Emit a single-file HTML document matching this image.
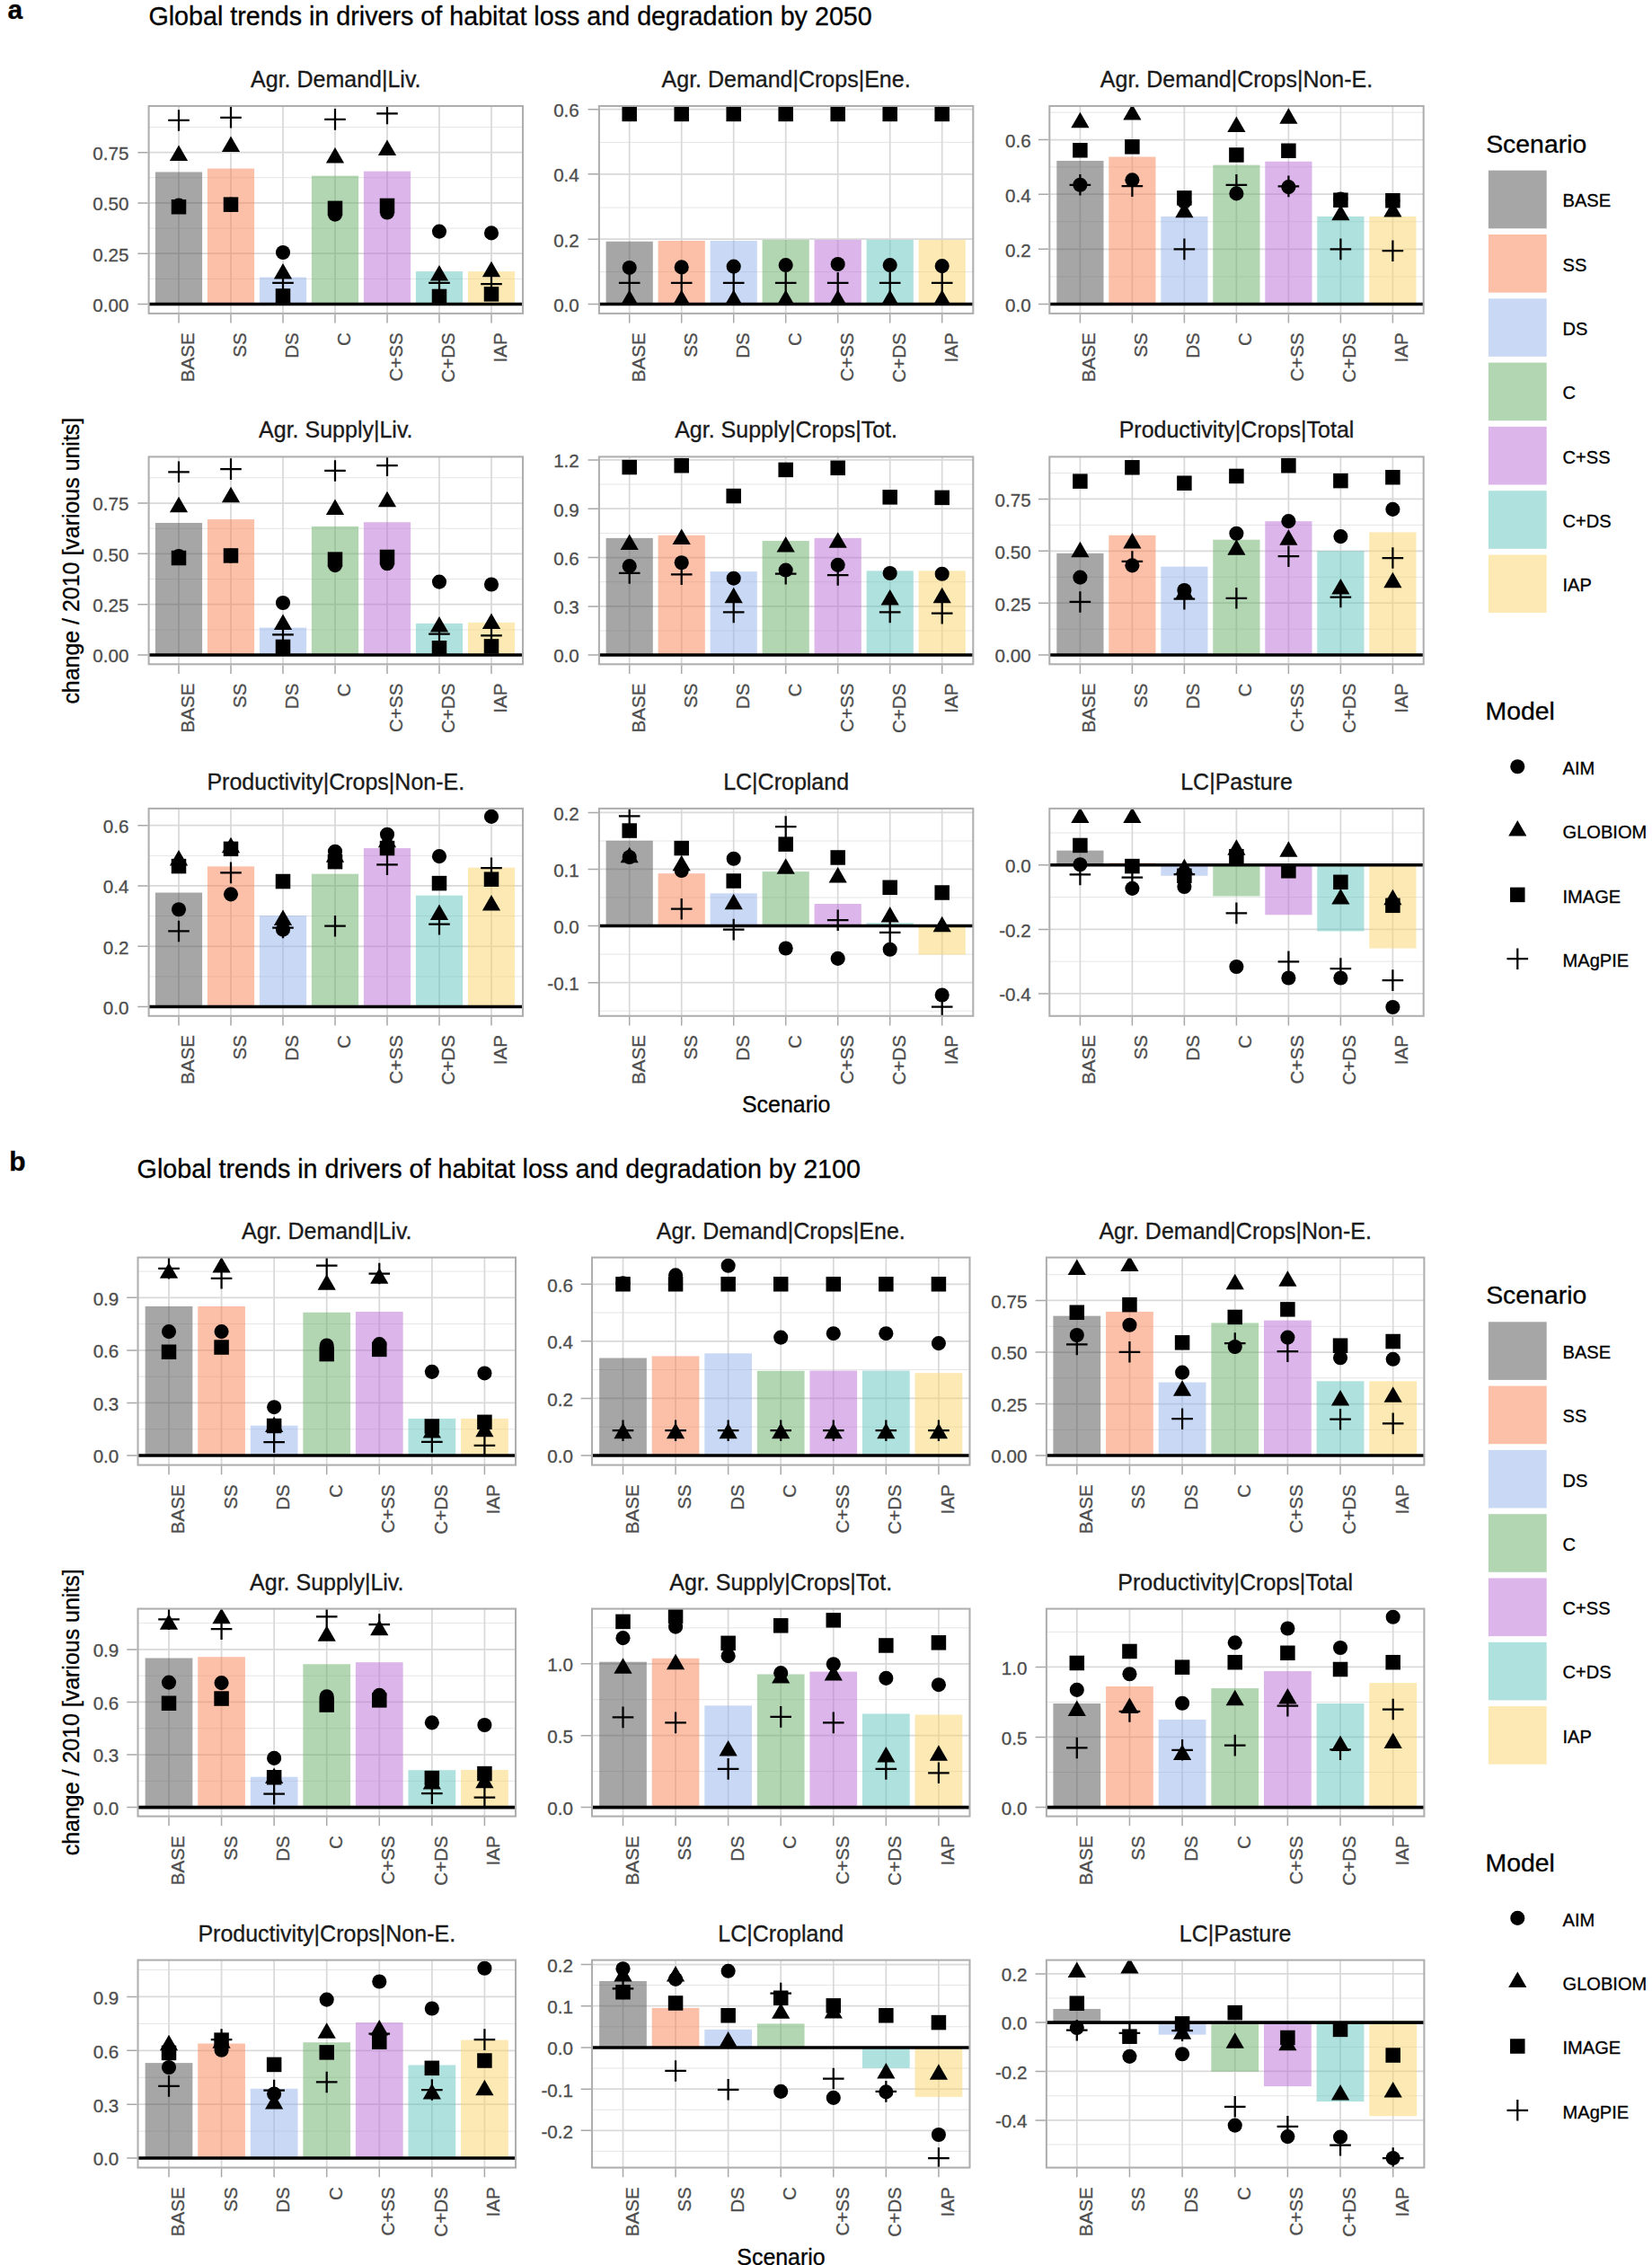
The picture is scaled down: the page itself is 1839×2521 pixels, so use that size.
<!DOCTYPE html>
<html lang="en"><head><meta charset="utf-8"><title>Global trends in drivers of habitat loss and degradation</title>
<style>html,body{margin:0;padding:0;background:#fff;color:#000}svg{display:block}text{fill:currentColor;stroke:currentColor;stroke-width:.3px}</style></head>
<body>
<svg width="1839" height="2521" viewBox="0 0 1839 2521" font-family='"Liberation Sans", sans-serif'>
<rect width="1839" height="2521" fill="#fff"/>
<text x="8.5" y="21.4" font-size="30" font-weight="bold" fill="#000">a</text>
<text x="10.3" y="1302.6" font-size="30" font-weight="bold" fill="#000">b</text>
<text x="165.4" y="27.8" font-size="28.7" fill="#000">Global trends in drivers of habitat loss and degradation by 2050</text>
<text x="152.6" y="1311" font-size="28.7" fill="#000">Global trends in drivers of habitat loss and degradation by 2100</text>
<text x="373.8" y="96.9" font-size="25.0" text-anchor="middle" color="#1a1a1a">Agr. Demand|Liv.</text>
<g>
<path d="M165.6 310.42H582M165.6 254.07H582M165.6 197.72H582M165.6 141.5H582" stroke="#e5e5e5" stroke-width="1" fill="none"/>
<path d="M165.6 338.54H582M165.6 282.23H582M165.6 225.93H582M165.6 169.63H582M199 118V348.9M257 118V348.9M315 118V348.9M373 118V348.9M431 118V348.9M489 118V348.9M547 118V348.9" stroke="#d9d9d9" stroke-width="1.75" fill="none"/>
<rect x="172.9" y="191.47" width="52.2" height="147.06" fill="#4d4d4d" fill-opacity="0.5"/>
<rect x="230.9" y="187.57" width="52.2" height="150.97" fill="#fa7f52" fill-opacity="0.5"/>
<rect x="288.9" y="308.6" width="52.2" height="29.93" fill="#93b4ec" fill-opacity="0.5"/>
<rect x="346.9" y="195.64" width="52.2" height="142.9" fill="#66ad66" fill-opacity="0.5"/>
<rect x="404.9" y="190.69" width="52.2" height="147.85" fill="#ba6bd6" fill-opacity="0.5"/>
<rect x="462.9" y="302.09" width="52.2" height="36.44" fill="#60c6be" fill-opacity="0.5"/>
<rect x="520.9" y="302.09" width="52.2" height="36.44" fill="#fcd468" fill-opacity="0.5"/>
<path d="M165.6 338.54H582" stroke="#000" stroke-width="3.6" fill="none"/>
<clipPath id="cp_a11"><rect x="165.6" y="118" width="416.4" height="230.9"/></clipPath>
<g fill="#000" clip-path="url(#cp_a11)">
<circle cx="199" cy="228.43" r="8.05"/>
<path d="M199 161.47L209.11 178.98L188.89 178.98Z"/>
<rect x="190.75" y="222" width="16.5" height="16.5"/>
<path d="M187.2 133.95H210.8M199 122.15V145.75" fill="none" stroke="#000" stroke-width="2.25"/>
<circle cx="257" cy="227.65" r="8.05"/>
<path d="M257 151.58L267.11 169.09L246.89 169.09Z"/>
<rect x="248.75" y="219.4" width="16.5" height="16.5"/>
<path d="M245.2 130.82H268.8M257 119.02V142.62" fill="none" stroke="#000" stroke-width="2.25"/>
<circle cx="315" cy="281.01" r="8.05"/>
<path d="M315 292.92L325.11 310.42L304.89 310.42Z"/>
<rect x="306.75" y="321.17" width="16.5" height="16.5"/>
<path d="M303.2 314.85H326.8M315 303.05V326.65" fill="none" stroke="#000" stroke-width="2.25"/>
<circle cx="373" cy="238.58" r="8.05"/>
<path d="M373 164.07L383.11 181.58L362.89 181.58Z"/>
<rect x="364.75" y="223.57" width="16.5" height="16.5"/>
<path d="M361.2 132.91H384.8M373 121.11V144.71" fill="none" stroke="#000" stroke-width="2.25"/>
<circle cx="431" cy="236.5" r="8.05"/>
<path d="M431 155.49L441.11 172.99L420.89 172.99Z"/>
<rect x="422.75" y="220.7" width="16.5" height="16.5"/>
<path d="M419.2 126.4H442.8M431 114.6V138.2" fill="none" stroke="#000" stroke-width="2.25"/>
<circle cx="489" cy="257.58" r="8.05"/>
<path d="M489 295L499.11 312.51L478.89 312.51Z"/>
<rect x="480.75" y="321.7" width="16.5" height="16.5"/>
<path d="M477.2 314.85H500.8M489 303.05V326.65" fill="none" stroke="#000" stroke-width="2.25"/>
<circle cx="547" cy="259.41" r="8.05"/>
<path d="M547 290.84L557.11 308.34L536.89 308.34Z"/>
<rect x="538.75" y="319.09" width="16.5" height="16.5"/>
<path d="M535.2 316.15H558.8M547 304.35V327.95" fill="none" stroke="#000" stroke-width="2.25"/>
</g>
<rect x="165.6" y="118" width="416.4" height="230.9" fill="none" stroke="#aeaeae" stroke-width="2.05"/>
<path d="M153.3 338.54H164.6M153.3 282.23H164.6M153.3 225.93H164.6M153.3 169.63H164.6M199 349.9V359.6M257 349.9V359.6M315 349.9V359.6M373 349.9V359.6M431 349.9V359.6M489 349.9V359.6M547 349.9V359.6" stroke="#a8a8a8" stroke-width="1.5" fill="none"/>
<g font-size="20.6" color="#4d4d4d" text-anchor="end">
<text x="143.4" y="346.94">0.00</text>
<text x="143.4" y="290.63">0.25</text>
<text x="143.4" y="234.33">0.50</text>
<text x="143.4" y="178.03">0.75</text>
</g>
<g font-size="20.6" color="#4d4d4d" text-anchor="end">
<text transform="translate(216 370.2) rotate(-90)">BASE</text>
<text transform="translate(274 370.2) rotate(-90)">SS</text>
<text transform="translate(332 370.2) rotate(-90)">DS</text>
<text transform="translate(390 370.2) rotate(-90)">C</text>
<text transform="translate(448 370.2) rotate(-90)">C+SS</text>
<text transform="translate(506 370.2) rotate(-90)">C+DS</text>
<text transform="translate(564 370.2) rotate(-90)">IAP</text>
</g>
</g>
<text x="875.1" y="96.9" font-size="25.0" text-anchor="middle" color="#1a1a1a">Agr. Demand|Crops|Ene.</text>
<g>
<path d="M666.9 302.62H1083.3M666.9 231.04H1083.3M666.9 158.41H1083.3" stroke="#e5e5e5" stroke-width="1" fill="none"/>
<path d="M666.9 338.54H1083.3M666.9 266.17H1083.3M666.9 193.81H1083.3M666.9 121.71H1083.3M700.7 118V348.9M758.7 118V348.9M816.7 118V348.9M874.7 118V348.9M932.7 118V348.9M990.7 118V348.9M1048.7 118V348.9" stroke="#d9d9d9" stroke-width="1.75" fill="none"/>
<rect x="674.6" y="268.78" width="52.2" height="69.76" fill="#4d4d4d" fill-opacity="0.5"/>
<rect x="732.6" y="268" width="52.2" height="70.54" fill="#fa7f52" fill-opacity="0.5"/>
<rect x="790.6" y="268" width="52.2" height="70.54" fill="#93b4ec" fill-opacity="0.5"/>
<rect x="848.6" y="266.96" width="52.2" height="71.58" fill="#66ad66" fill-opacity="0.5"/>
<rect x="906.6" y="266.96" width="52.2" height="71.58" fill="#ba6bd6" fill-opacity="0.5"/>
<rect x="964.6" y="266.96" width="52.2" height="71.58" fill="#60c6be" fill-opacity="0.5"/>
<rect x="1022.6" y="266.96" width="52.2" height="71.58" fill="#fcd468" fill-opacity="0.5"/>
<path d="M666.9 338.54H1083.3" stroke="#000" stroke-width="3.6" fill="none"/>
<clipPath id="cp_a12"><rect x="666.9" y="118" width="416.4" height="230.9"/></clipPath>
<g fill="#000" clip-path="url(#cp_a12)">
<circle cx="700.7" cy="297.93" r="8.05"/>
<path d="M700.7 322.59L710.81 340.1L690.59 340.1Z"/>
<rect x="692.45" y="118.67" width="16.5" height="16.5"/>
<path d="M688.9 314.85H712.5M700.7 303.05V326.65" fill="none" stroke="#000" stroke-width="2.25"/>
<circle cx="758.7" cy="297.41" r="8.05"/>
<path d="M758.7 322.59L768.81 340.1L748.59 340.1Z"/>
<rect x="750.45" y="118.67" width="16.5" height="16.5"/>
<path d="M746.9 314.85H770.5M758.7 303.05V326.65" fill="none" stroke="#000" stroke-width="2.25"/>
<circle cx="816.7" cy="296.63" r="8.05"/>
<path d="M816.7 322.59L826.81 340.1L806.59 340.1Z"/>
<rect x="808.45" y="118.67" width="16.5" height="16.5"/>
<path d="M804.9 314.85H828.5M816.7 303.05V326.65" fill="none" stroke="#000" stroke-width="2.25"/>
<circle cx="874.7" cy="295.07" r="8.05"/>
<path d="M874.7 322.59L884.81 340.1L864.59 340.1Z"/>
<rect x="866.45" y="118.67" width="16.5" height="16.5"/>
<path d="M862.9 314.85H886.5M874.7 303.05V326.65" fill="none" stroke="#000" stroke-width="2.25"/>
<circle cx="932.7" cy="294.03" r="8.05"/>
<path d="M932.7 322.59L942.81 340.1L922.59 340.1Z"/>
<rect x="924.45" y="118.67" width="16.5" height="16.5"/>
<path d="M920.9 314.85H944.5M932.7 303.05V326.65" fill="none" stroke="#000" stroke-width="2.25"/>
<circle cx="990.7" cy="295.07" r="8.05"/>
<path d="M990.7 322.59L1000.81 340.1L980.59 340.1Z"/>
<rect x="982.45" y="118.67" width="16.5" height="16.5"/>
<path d="M978.9 314.85H1002.5M990.7 303.05V326.65" fill="none" stroke="#000" stroke-width="2.25"/>
<circle cx="1048.7" cy="296.11" r="8.05"/>
<path d="M1048.7 322.59L1058.81 340.1L1038.59 340.1Z"/>
<rect x="1040.45" y="118.67" width="16.5" height="16.5"/>
<path d="M1036.9 314.85H1060.5M1048.7 303.05V326.65" fill="none" stroke="#000" stroke-width="2.25"/>
</g>
<rect x="666.9" y="118" width="416.4" height="230.9" fill="none" stroke="#aeaeae" stroke-width="2.05"/>
<path d="M654.6 338.54H665.9M654.6 266.17H665.9M654.6 193.81H665.9M654.6 121.71H665.9M700.7 349.9V359.6M758.7 349.9V359.6M816.7 349.9V359.6M874.7 349.9V359.6M932.7 349.9V359.6M990.7 349.9V359.6M1048.7 349.9V359.6" stroke="#a8a8a8" stroke-width="1.5" fill="none"/>
<g font-size="20.6" color="#4d4d4d" text-anchor="end">
<text x="644.8" y="346.94">0.0</text>
<text x="644.8" y="274.57">0.2</text>
<text x="644.8" y="202.21">0.4</text>
<text x="644.8" y="130.11">0.6</text>
</g>
<g font-size="20.6" color="#4d4d4d" text-anchor="end">
<text transform="translate(717.7 370.2) rotate(-90)">BASE</text>
<text transform="translate(775.7 370.2) rotate(-90)">SS</text>
<text transform="translate(833.7 370.2) rotate(-90)">DS</text>
<text transform="translate(891.7 370.2) rotate(-90)">C</text>
<text transform="translate(949.7 370.2) rotate(-90)">C+SS</text>
<text transform="translate(1007.7 370.2) rotate(-90)">C+DS</text>
<text transform="translate(1065.7 370.2) rotate(-90)">IAP</text>
</g>
</g>
<text x="1376.5" y="96.9" font-size="25.0" text-anchor="middle" color="#1a1a1a">Agr. Demand|Crops|Non-E.</text>
<g>
<path d="M1168.3 307.95H1584.7M1168.3 246.78H1584.7M1168.3 185.87H1584.7M1168.3 125.1H1584.7" stroke="#e5e5e5" stroke-width="1" fill="none"/>
<path d="M1168.3 338.54H1584.7M1168.3 277.37H1584.7M1168.3 216.2H1584.7M1168.3 155.55H1584.7M1202.4 118V348.9M1260.4 118V348.9M1318.4 118V348.9M1376.4 118V348.9M1434.4 118V348.9M1492.4 118V348.9M1550.4 118V348.9" stroke="#d9d9d9" stroke-width="1.75" fill="none"/>
<rect x="1176.3" y="178.98" width="52.2" height="159.56" fill="#4d4d4d" fill-opacity="0.5"/>
<rect x="1234.3" y="174.55" width="52.2" height="163.98" fill="#fa7f52" fill-opacity="0.5"/>
<rect x="1292.3" y="240.93" width="52.2" height="97.61" fill="#93b4ec" fill-opacity="0.5"/>
<rect x="1350.3" y="183.66" width="52.2" height="154.87" fill="#66ad66" fill-opacity="0.5"/>
<rect x="1408.3" y="179.76" width="52.2" height="158.78" fill="#ba6bd6" fill-opacity="0.5"/>
<rect x="1466.3" y="240.93" width="52.2" height="97.61" fill="#60c6be" fill-opacity="0.5"/>
<rect x="1524.3" y="240.93" width="52.2" height="97.61" fill="#fcd468" fill-opacity="0.5"/>
<path d="M1168.3 338.54H1584.7" stroke="#000" stroke-width="3.6" fill="none"/>
<clipPath id="cp_a13"><rect x="1168.3" y="118" width="416.4" height="230.9"/></clipPath>
<g fill="#000" clip-path="url(#cp_a13)">
<circle cx="1202.4" cy="205.79" r="8.05"/>
<path d="M1202.4 124.77L1212.51 142.28L1192.29 142.28Z"/>
<rect x="1194.15" y="159.01" width="16.5" height="16.5"/>
<path d="M1190.6 205.79H1214.2M1202.4 193.99V217.59" fill="none" stroke="#000" stroke-width="2.25"/>
<circle cx="1260.4" cy="200.32" r="8.05"/>
<path d="M1260.4 115.92L1270.51 133.43L1250.29 133.43Z"/>
<rect x="1252.15" y="155.11" width="16.5" height="16.5"/>
<path d="M1248.6 207.09H1272.2M1260.4 195.29V218.89" fill="none" stroke="#000" stroke-width="2.25"/>
<circle cx="1318.4" cy="224.53" r="8.05"/>
<path d="M1318.4 224.72L1328.51 242.23L1308.29 242.23Z"/>
<rect x="1310.15" y="212.11" width="16.5" height="16.5"/>
<path d="M1306.6 277.37H1330.2M1318.4 265.57V289.17" fill="none" stroke="#000" stroke-width="2.25"/>
<circle cx="1376.4" cy="215.42" r="8.05"/>
<path d="M1376.4 129.46L1386.51 146.96L1366.29 146.96Z"/>
<rect x="1368.15" y="164.22" width="16.5" height="16.5"/>
<path d="M1364.6 205.79H1388.2M1376.4 193.99V217.59" fill="none" stroke="#000" stroke-width="2.25"/>
<circle cx="1434.4" cy="208.13" r="8.05"/>
<path d="M1434.4 120.35L1444.51 137.85L1424.29 137.85Z"/>
<rect x="1426.15" y="159.53" width="16.5" height="16.5"/>
<path d="M1422.6 207.35H1446.2M1434.4 195.55V219.15" fill="none" stroke="#000" stroke-width="2.25"/>
<circle cx="1492.4" cy="221.66" r="8.05"/>
<path d="M1492.4 227.85L1502.51 245.35L1482.29 245.35Z"/>
<rect x="1484.15" y="214.46" width="16.5" height="16.5"/>
<path d="M1480.6 277.37H1504.2M1492.4 265.57V289.17" fill="none" stroke="#000" stroke-width="2.25"/>
<circle cx="1550.4" cy="223.23" r="8.05"/>
<path d="M1550.4 223.94L1560.51 241.45L1540.29 241.45Z"/>
<rect x="1542.15" y="214.98" width="16.5" height="16.5"/>
<path d="M1538.6 279.19H1562.2M1550.4 267.39V290.99" fill="none" stroke="#000" stroke-width="2.25"/>
</g>
<rect x="1168.3" y="118" width="416.4" height="230.9" fill="none" stroke="#aeaeae" stroke-width="2.05"/>
<path d="M1156 338.54H1167.3M1156 277.37H1167.3M1156 216.2H1167.3M1156 155.55H1167.3M1202.4 349.9V359.6M1260.4 349.9V359.6M1318.4 349.9V359.6M1376.4 349.9V359.6M1434.4 349.9V359.6M1492.4 349.9V359.6M1550.4 349.9V359.6" stroke="#a8a8a8" stroke-width="1.5" fill="none"/>
<g font-size="20.6" color="#4d4d4d" text-anchor="end">
<text x="1147.7" y="346.94">0.0</text>
<text x="1147.7" y="285.77">0.2</text>
<text x="1147.7" y="224.6">0.4</text>
<text x="1147.7" y="163.95">0.6</text>
</g>
<g font-size="20.6" color="#4d4d4d" text-anchor="end">
<text transform="translate(1219.4 370.2) rotate(-90)">BASE</text>
<text transform="translate(1277.4 370.2) rotate(-90)">SS</text>
<text transform="translate(1335.4 370.2) rotate(-90)">DS</text>
<text transform="translate(1393.4 370.2) rotate(-90)">C</text>
<text transform="translate(1451.4 370.2) rotate(-90)">C+SS</text>
<text transform="translate(1509.4 370.2) rotate(-90)">C+DS</text>
<text transform="translate(1567.4 370.2) rotate(-90)">IAP</text>
</g>
</g>
<text x="373.8" y="487.3" font-size="25.0" text-anchor="middle" color="#1a1a1a">Agr. Supply|Liv.</text>
<g>
<path d="M165.6 700.94H582M165.6 644.46H582M165.6 588.24H582M165.6 531.76H582" stroke="#e5e5e5" stroke-width="1" fill="none"/>
<path d="M165.6 729.06H582M165.6 672.7H582M165.6 616.35H582M165.6 560H582M199 508.4V739.3M257 508.4V739.3M315 508.4V739.3M373 508.4V739.3M431 508.4V739.3M489 508.4V739.3M547 508.4V739.3" stroke="#d9d9d9" stroke-width="1.75" fill="none"/>
<rect x="172.9" y="581.99" width="52.2" height="147.06" fill="#4d4d4d" fill-opacity="0.5"/>
<rect x="230.9" y="578.09" width="52.2" height="150.97" fill="#fa7f52" fill-opacity="0.5"/>
<rect x="288.9" y="698.6" width="52.2" height="30.45" fill="#93b4ec" fill-opacity="0.5"/>
<rect x="346.9" y="585.9" width="52.2" height="143.16" fill="#66ad66" fill-opacity="0.5"/>
<rect x="404.9" y="581.21" width="52.2" height="147.85" fill="#ba6bd6" fill-opacity="0.5"/>
<rect x="462.9" y="693.92" width="52.2" height="35.14" fill="#60c6be" fill-opacity="0.5"/>
<rect x="520.9" y="692.88" width="52.2" height="36.18" fill="#fcd468" fill-opacity="0.5"/>
<path d="M165.6 729.06H582" stroke="#000" stroke-width="3.6" fill="none"/>
<clipPath id="cp_a21"><rect x="165.6" y="508.4" width="416.4" height="230.9"/></clipPath>
<g fill="#000" clip-path="url(#cp_a21)">
<circle cx="199" cy="618.95" r="8.05"/>
<path d="M199 552.77L209.11 570.28L188.89 570.28Z"/>
<rect x="190.75" y="612.79" width="16.5" height="16.5"/>
<path d="M187.2 525.25H210.8M199 513.45V537.05" fill="none" stroke="#000" stroke-width="2.25"/>
<circle cx="257" cy="618.43" r="8.05"/>
<path d="M257 541.84L267.11 559.35L246.89 559.35Z"/>
<rect x="248.75" y="610.18" width="16.5" height="16.5"/>
<path d="M245.2 522.12H268.8M257 510.32V533.92" fill="none" stroke="#000" stroke-width="2.25"/>
<circle cx="315" cy="671.01" r="8.05"/>
<path d="M315 683.44L325.11 700.94L304.89 700.94Z"/>
<rect x="306.75" y="711.7" width="16.5" height="16.5"/>
<path d="M303.2 706.41H326.8M315 694.61V718.21" fill="none" stroke="#000" stroke-width="2.25"/>
<circle cx="373" cy="629.1" r="8.05"/>
<path d="M373 555.38L383.11 572.88L362.89 572.88Z"/>
<rect x="364.75" y="614.35" width="16.5" height="16.5"/>
<path d="M361.2 523.95H384.8M373 512.15V535.75" fill="none" stroke="#000" stroke-width="2.25"/>
<circle cx="431" cy="627.28" r="8.05"/>
<path d="M431 546.79L441.11 564.29L420.89 564.29Z"/>
<rect x="422.75" y="611.74" width="16.5" height="16.5"/>
<path d="M419.2 518.22H442.8M431 506.42V530.02" fill="none" stroke="#000" stroke-width="2.25"/>
<circle cx="489" cy="647.58" r="8.05"/>
<path d="M489 686.04L499.11 703.55L478.89 703.55Z"/>
<rect x="480.75" y="713" width="16.5" height="16.5"/>
<path d="M477.2 705.63H500.8M489 693.83V717.43" fill="none" stroke="#000" stroke-width="2.25"/>
<circle cx="547" cy="650.45" r="8.05"/>
<path d="M547 682.4L557.11 699.9L536.89 699.9Z"/>
<rect x="538.75" y="711.17" width="16.5" height="16.5"/>
<path d="M535.2 707.45H558.8M547 695.65V719.25" fill="none" stroke="#000" stroke-width="2.25"/>
</g>
<rect x="165.6" y="508.4" width="416.4" height="230.9" fill="none" stroke="#aeaeae" stroke-width="2.05"/>
<path d="M153.3 729.06H164.6M153.3 672.7H164.6M153.3 616.35H164.6M153.3 560H164.6M199 740.3V750M257 740.3V750M315 740.3V750M373 740.3V750M431 740.3V750M489 740.3V750M547 740.3V750" stroke="#a8a8a8" stroke-width="1.5" fill="none"/>
<g font-size="20.6" color="#4d4d4d" text-anchor="end">
<text x="143.4" y="737.46">0.00</text>
<text x="143.4" y="681.1">0.25</text>
<text x="143.4" y="624.75">0.50</text>
<text x="143.4" y="568.4">0.75</text>
</g>
<g font-size="20.6" color="#4d4d4d" text-anchor="end">
<text transform="translate(216 760.6) rotate(-90)">BASE</text>
<text transform="translate(274 760.6) rotate(-90)">SS</text>
<text transform="translate(332 760.6) rotate(-90)">DS</text>
<text transform="translate(390 760.6) rotate(-90)">C</text>
<text transform="translate(448 760.6) rotate(-90)">C+SS</text>
<text transform="translate(506 760.6) rotate(-90)">C+DS</text>
<text transform="translate(564 760.6) rotate(-90)">IAP</text>
</g>
</g>
<text x="875.1" y="487.3" font-size="25.0" text-anchor="middle" color="#1a1a1a">Agr. Supply|Crops|Tot.</text>
<g>
<path d="M666.9 701.99H1083.3M666.9 647.71H1083.3M666.9 593.44H1083.3M666.9 539.04H1083.3" stroke="#e5e5e5" stroke-width="1" fill="none"/>
<path d="M666.9 729.06H1083.3M666.9 674.92H1083.3M666.9 620.51H1083.3M666.9 566.24H1083.3M666.9 511.97H1083.3M700.7 508.4V739.3M758.7 508.4V739.3M816.7 508.4V739.3M874.7 508.4V739.3M932.7 508.4V739.3M990.7 508.4V739.3M1048.7 508.4V739.3" stroke="#d9d9d9" stroke-width="1.75" fill="none"/>
<rect x="674.6" y="598.91" width="52.2" height="130.15" fill="#4d4d4d" fill-opacity="0.5"/>
<rect x="732.6" y="595.79" width="52.2" height="133.27" fill="#fa7f52" fill-opacity="0.5"/>
<rect x="790.6" y="636.13" width="52.2" height="92.92" fill="#93b4ec" fill-opacity="0.5"/>
<rect x="848.6" y="602.03" width="52.2" height="127.02" fill="#66ad66" fill-opacity="0.5"/>
<rect x="906.6" y="598.91" width="52.2" height="130.15" fill="#ba6bd6" fill-opacity="0.5"/>
<rect x="964.6" y="635.35" width="52.2" height="93.7" fill="#60c6be" fill-opacity="0.5"/>
<rect x="1022.6" y="635.35" width="52.2" height="93.7" fill="#fcd468" fill-opacity="0.5"/>
<path d="M666.9 729.06H1083.3" stroke="#000" stroke-width="3.6" fill="none"/>
<clipPath id="cp_a22"><rect x="666.9" y="508.4" width="416.4" height="230.9"/></clipPath>
<g fill="#000" clip-path="url(#cp_a22)">
<circle cx="700.7" cy="630.15" r="8.05"/>
<path d="M700.7 594.42L710.81 611.92L690.59 611.92Z"/>
<rect x="692.45" y="511.79" width="16.5" height="16.5"/>
<path d="M688.9 637.95H712.5M700.7 626.15V649.75" fill="none" stroke="#000" stroke-width="2.25"/>
<circle cx="758.7" cy="626.24" r="8.05"/>
<path d="M758.7 588.43L768.81 605.94L748.59 605.94Z"/>
<rect x="750.45" y="509.97" width="16.5" height="16.5"/>
<path d="M746.9 639.26H770.5M758.7 627.46V651.06" fill="none" stroke="#000" stroke-width="2.25"/>
<circle cx="816.7" cy="643.68" r="8.05"/>
<path d="M816.7 653.77L826.81 671.27L806.59 671.27Z"/>
<rect x="808.45" y="543.81" width="16.5" height="16.5"/>
<path d="M804.9 681.42H828.5M816.7 669.62V693.22" fill="none" stroke="#000" stroke-width="2.25"/>
<circle cx="874.7" cy="634.57" r="8.05"/>
<path d="M874.7 597.02L884.81 614.53L864.59 614.53Z"/>
<rect x="866.45" y="514.66" width="16.5" height="16.5"/>
<path d="M862.9 638.73H886.5M874.7 626.93V650.53" fill="none" stroke="#000" stroke-width="2.25"/>
<circle cx="932.7" cy="628.84" r="8.05"/>
<path d="M932.7 592.34L942.81 609.84L922.59 609.84Z"/>
<rect x="924.45" y="512.57" width="16.5" height="16.5"/>
<path d="M920.9 640.04H944.5M932.7 628.24V651.84" fill="none" stroke="#000" stroke-width="2.25"/>
<circle cx="990.7" cy="637.95" r="8.05"/>
<path d="M990.7 656.11L1000.81 673.61L980.59 673.61Z"/>
<rect x="982.45" y="545.11" width="16.5" height="16.5"/>
<path d="M978.9 681.42H1002.5M990.7 669.62V693.22" fill="none" stroke="#000" stroke-width="2.25"/>
<circle cx="1048.7" cy="638.73" r="8.05"/>
<path d="M1048.7 653.77L1058.81 671.27L1038.59 671.27Z"/>
<rect x="1040.45" y="545.63" width="16.5" height="16.5"/>
<path d="M1036.9 682.72H1060.5M1048.7 670.92V694.52" fill="none" stroke="#000" stroke-width="2.25"/>
</g>
<rect x="666.9" y="508.4" width="416.4" height="230.9" fill="none" stroke="#aeaeae" stroke-width="2.05"/>
<path d="M654.6 729.06H665.9M654.6 674.92H665.9M654.6 620.51H665.9M654.6 566.24H665.9M654.6 511.97H665.9M700.7 740.3V750M758.7 740.3V750M816.7 740.3V750M874.7 740.3V750M932.7 740.3V750M990.7 740.3V750M1048.7 740.3V750" stroke="#a8a8a8" stroke-width="1.5" fill="none"/>
<g font-size="20.6" color="#4d4d4d" text-anchor="end">
<text x="644.8" y="737.46">0.0</text>
<text x="644.8" y="683.32">0.3</text>
<text x="644.8" y="628.91">0.6</text>
<text x="644.8" y="574.64">0.9</text>
<text x="644.8" y="520.37">1.2</text>
</g>
<g font-size="20.6" color="#4d4d4d" text-anchor="end">
<text transform="translate(717.7 760.6) rotate(-90)">BASE</text>
<text transform="translate(775.7 760.6) rotate(-90)">SS</text>
<text transform="translate(833.7 760.6) rotate(-90)">DS</text>
<text transform="translate(891.7 760.6) rotate(-90)">C</text>
<text transform="translate(949.7 760.6) rotate(-90)">C+SS</text>
<text transform="translate(1007.7 760.6) rotate(-90)">C+DS</text>
<text transform="translate(1065.7 760.6) rotate(-90)">IAP</text>
</g>
</g>
<text x="1376.5" y="487.3" font-size="25.0" text-anchor="middle" color="#1a1a1a">Productivity|Crops|Total</text>
<g>
<path d="M1168.3 700.16H1584.7M1168.3 642.25H1584.7M1168.3 584.33H1584.7M1168.3 526.55H1584.7" stroke="#e5e5e5" stroke-width="1" fill="none"/>
<path d="M1168.3 729.06H1584.7M1168.3 671.19H1584.7M1168.3 613.3H1584.7M1168.3 555.44H1584.7M1202.4 508.4V739.3M1260.4 508.4V739.3M1318.4 508.4V739.3M1376.4 508.4V739.3M1434.4 508.4V739.3M1492.4 508.4V739.3M1550.4 508.4V739.3" stroke="#d9d9d9" stroke-width="1.75" fill="none"/>
<rect x="1176.3" y="615.83" width="52.2" height="113.23" fill="#4d4d4d" fill-opacity="0.5"/>
<rect x="1234.3" y="595.79" width="52.2" height="133.27" fill="#fa7f52" fill-opacity="0.5"/>
<rect x="1292.3" y="630.67" width="52.2" height="98.39" fill="#93b4ec" fill-opacity="0.5"/>
<rect x="1350.3" y="600.73" width="52.2" height="128.32" fill="#66ad66" fill-opacity="0.5"/>
<rect x="1408.3" y="580.17" width="52.2" height="148.89" fill="#ba6bd6" fill-opacity="0.5"/>
<rect x="1466.3" y="613.23" width="52.2" height="115.83" fill="#60c6be" fill-opacity="0.5"/>
<rect x="1524.3" y="592.4" width="52.2" height="136.65" fill="#fcd468" fill-opacity="0.5"/>
<path d="M1168.3 729.06H1584.7" stroke="#000" stroke-width="3.6" fill="none"/>
<clipPath id="cp_a23"><rect x="1168.3" y="508.4" width="416.4" height="230.9"/></clipPath>
<g fill="#000" clip-path="url(#cp_a23)">
<circle cx="1202.4" cy="642.64" r="8.05"/>
<path d="M1202.4 602.75L1212.51 620.25L1192.29 620.25Z"/>
<rect x="1194.15" y="527.41" width="16.5" height="16.5"/>
<path d="M1190.6 669.97H1214.2M1202.4 658.17V681.77" fill="none" stroke="#000" stroke-width="2.25"/>
<circle cx="1260.4" cy="629.36" r="8.05"/>
<path d="M1260.4 593.12L1270.51 610.62L1250.29 610.62Z"/>
<rect x="1252.15" y="512.05" width="16.5" height="16.5"/>
<path d="M1248.6 624.94H1272.2M1260.4 613.14V636.74" fill="none" stroke="#000" stroke-width="2.25"/>
<circle cx="1318.4" cy="656.96" r="8.05"/>
<path d="M1318.4 649.08L1328.51 666.59L1308.29 666.59Z"/>
<rect x="1310.15" y="529.49" width="16.5" height="16.5"/>
<path d="M1306.6 666.59H1330.2M1318.4 654.79V678.39" fill="none" stroke="#000" stroke-width="2.25"/>
<circle cx="1376.4" cy="593.7" r="8.05"/>
<path d="M1376.4 600.15L1386.51 617.65L1366.29 617.65Z"/>
<rect x="1368.15" y="521.68" width="16.5" height="16.5"/>
<path d="M1364.6 665.81H1388.2M1376.4 654.01V677.61" fill="none" stroke="#000" stroke-width="2.25"/>
<circle cx="1434.4" cy="580.17" r="8.05"/>
<path d="M1434.4 589.21L1444.51 606.72L1424.29 606.72Z"/>
<rect x="1426.15" y="509.97" width="16.5" height="16.5"/>
<path d="M1422.6 619.21H1446.2M1434.4 607.41V631.01" fill="none" stroke="#000" stroke-width="2.25"/>
<circle cx="1492.4" cy="597.09" r="8.05"/>
<path d="M1492.4 643.88L1502.51 661.38L1482.29 661.38Z"/>
<rect x="1484.15" y="526.89" width="16.5" height="16.5"/>
<path d="M1480.6 664.5H1504.2M1492.4 652.7V676.3" fill="none" stroke="#000" stroke-width="2.25"/>
<circle cx="1550.4" cy="566.89" r="8.05"/>
<path d="M1550.4 636.85L1560.51 654.35L1540.29 654.35Z"/>
<rect x="1542.15" y="522.98" width="16.5" height="16.5"/>
<path d="M1538.6 621.04H1562.2M1550.4 609.24V632.84" fill="none" stroke="#000" stroke-width="2.25"/>
</g>
<rect x="1168.3" y="508.4" width="416.4" height="230.9" fill="none" stroke="#aeaeae" stroke-width="2.05"/>
<path d="M1156 729.06H1167.3M1156 671.19H1167.3M1156 613.3H1167.3M1156 555.44H1167.3M1202.4 740.3V750M1260.4 740.3V750M1318.4 740.3V750M1376.4 740.3V750M1434.4 740.3V750M1492.4 740.3V750M1550.4 740.3V750" stroke="#a8a8a8" stroke-width="1.5" fill="none"/>
<g font-size="20.6" color="#4d4d4d" text-anchor="end">
<text x="1147.7" y="737.46">0.00</text>
<text x="1147.7" y="679.59">0.25</text>
<text x="1147.7" y="621.7">0.50</text>
<text x="1147.7" y="563.84">0.75</text>
</g>
<g font-size="20.6" color="#4d4d4d" text-anchor="end">
<text transform="translate(1219.4 760.6) rotate(-90)">BASE</text>
<text transform="translate(1277.4 760.6) rotate(-90)">SS</text>
<text transform="translate(1335.4 760.6) rotate(-90)">DS</text>
<text transform="translate(1393.4 760.6) rotate(-90)">C</text>
<text transform="translate(1451.4 760.6) rotate(-90)">C+SS</text>
<text transform="translate(1509.4 760.6) rotate(-90)">C+DS</text>
<text transform="translate(1567.4 760.6) rotate(-90)">IAP</text>
</g>
</g>
<text x="373.8" y="878.8" font-size="25.0" text-anchor="middle" color="#1a1a1a">Productivity|Crops|Non-E.</text>
<g>
<path d="M165.6 1086.96H582M165.6 1019.54H582M165.6 952.39H582" stroke="#e5e5e5" stroke-width="1" fill="none"/>
<path d="M165.6 1120.54H582M165.6 1053.25H582M165.6 985.96H582M165.6 918.68H582M199 899.9V1130.8M257 899.9V1130.8M315 899.9V1130.8M373 899.9V1130.8M431 899.9V1130.8M489 899.9V1130.8M547 899.9V1130.8" stroke="#d9d9d9" stroke-width="1.75" fill="none"/>
<rect x="172.9" y="993.51" width="52.2" height="127.02" fill="#4d4d4d" fill-opacity="0.5"/>
<rect x="230.9" y="964.36" width="52.2" height="156.17" fill="#fa7f52" fill-opacity="0.5"/>
<rect x="288.9" y="1019.02" width="52.2" height="101.51" fill="#93b4ec" fill-opacity="0.5"/>
<rect x="346.9" y="972.69" width="52.2" height="147.85" fill="#66ad66" fill-opacity="0.5"/>
<rect x="404.9" y="944.06" width="52.2" height="176.48" fill="#ba6bd6" fill-opacity="0.5"/>
<rect x="462.9" y="996.64" width="52.2" height="123.9" fill="#60c6be" fill-opacity="0.5"/>
<rect x="520.9" y="965.66" width="52.2" height="154.87" fill="#fcd468" fill-opacity="0.5"/>
<path d="M165.6 1120.54H582" stroke="#000" stroke-width="3.6" fill="none"/>
<clipPath id="cp_a31"><rect x="165.6" y="899.9" width="416.4" height="230.9"/></clipPath>
<g fill="#000" clip-path="url(#cp_a31)">
<circle cx="199" cy="1012.25" r="8.05"/>
<path d="M199 946.07L209.11 963.58L188.89 963.58Z"/>
<rect x="190.75" y="955.85" width="16.5" height="16.5"/>
<path d="M187.2 1036.46H210.8M199 1024.66V1048.26" fill="none" stroke="#000" stroke-width="2.25"/>
<circle cx="257" cy="995.34" r="8.05"/>
<path d="M257 931.76L267.11 949.26L246.89 949.26Z"/>
<rect x="248.75" y="936.59" width="16.5" height="16.5"/>
<path d="M245.2 971.39H268.8M257 959.59V983.19" fill="none" stroke="#000" stroke-width="2.25"/>
<circle cx="315" cy="1034.64" r="8.05"/>
<path d="M315 1012.45L325.11 1029.95L304.89 1029.95Z"/>
<rect x="306.75" y="972.77" width="16.5" height="16.5"/>
<path d="M303.2 1032.56H326.8M315 1020.76V1044.36" fill="none" stroke="#000" stroke-width="2.25"/>
<circle cx="373" cy="947.7" r="8.05"/>
<path d="M373 942.17L383.11 959.68L362.89 959.68Z"/>
<rect x="364.75" y="950.9" width="16.5" height="16.5"/>
<path d="M361.2 1030.73H384.8M373 1018.93V1042.53" fill="none" stroke="#000" stroke-width="2.25"/>
<circle cx="431" cy="928.7" r="8.05"/>
<path d="M431 925.77L441.11 943.28L420.89 943.28Z"/>
<rect x="422.75" y="935.81" width="16.5" height="16.5"/>
<path d="M419.2 962.28H442.8M431 950.48V974.08" fill="none" stroke="#000" stroke-width="2.25"/>
<circle cx="489" cy="953.17" r="8.05"/>
<path d="M489 1006.46L499.11 1023.97L478.89 1023.97Z"/>
<rect x="480.75" y="974.85" width="16.5" height="16.5"/>
<path d="M477.2 1028.65H500.8M489 1016.85V1040.45" fill="none" stroke="#000" stroke-width="2.25"/>
<circle cx="547" cy="908.92" r="8.05"/>
<path d="M547 996.05L557.11 1013.56L536.89 1013.56Z"/>
<rect x="538.75" y="970.43" width="16.5" height="16.5"/>
<path d="M535.2 966.18H558.8M547 954.38V977.98" fill="none" stroke="#000" stroke-width="2.25"/>
</g>
<rect x="165.6" y="899.9" width="416.4" height="230.9" fill="none" stroke="#aeaeae" stroke-width="2.05"/>
<path d="M153.3 1120.54H164.6M153.3 1053.25H164.6M153.3 985.96H164.6M153.3 918.68H164.6M199 1131.8V1141.5M257 1131.8V1141.5M315 1131.8V1141.5M373 1131.8V1141.5M431 1131.8V1141.5M489 1131.8V1141.5M547 1131.8V1141.5" stroke="#a8a8a8" stroke-width="1.5" fill="none"/>
<g font-size="20.6" color="#4d4d4d" text-anchor="end">
<text x="143.4" y="1128.94">0.0</text>
<text x="143.4" y="1061.65">0.2</text>
<text x="143.4" y="994.36">0.4</text>
<text x="143.4" y="927.08">0.6</text>
</g>
<g font-size="20.6" color="#4d4d4d" text-anchor="end">
<text transform="translate(216 1152.1) rotate(-90)">BASE</text>
<text transform="translate(274 1152.1) rotate(-90)">SS</text>
<text transform="translate(332 1152.1) rotate(-90)">DS</text>
<text transform="translate(390 1152.1) rotate(-90)">C</text>
<text transform="translate(448 1152.1) rotate(-90)">C+SS</text>
<text transform="translate(506 1152.1) rotate(-90)">C+DS</text>
<text transform="translate(564 1152.1) rotate(-90)">IAP</text>
</g>
</g>
<text x="875.1" y="878.8" font-size="25.0" text-anchor="middle" color="#1a1a1a">LC|Cropland</text>
<g>
<path d="M666.9 1125.22H1083.3M666.9 1062.1H1083.3M666.9 998.98H1083.3M666.9 935.99H1083.3" stroke="#e5e5e5" stroke-width="1" fill="none"/>
<path d="M666.9 1093.73H1083.3M666.9 1030.47H1083.3M666.9 967.48H1083.3M666.9 904.49H1083.3M700.7 899.9V1130.8M758.7 899.9V1130.8M816.7 899.9V1130.8M874.7 899.9V1130.8M932.7 899.9V1130.8M990.7 899.9V1130.8M1048.7 899.9V1130.8" stroke="#d9d9d9" stroke-width="1.75" fill="none"/>
<rect x="674.6" y="935.73" width="52.2" height="94.75" fill="#4d4d4d" fill-opacity="0.5"/>
<rect x="732.6" y="972.17" width="52.2" height="58.31" fill="#fa7f52" fill-opacity="0.5"/>
<rect x="790.6" y="994.29" width="52.2" height="36.18" fill="#93b4ec" fill-opacity="0.5"/>
<rect x="848.6" y="970.09" width="52.2" height="60.39" fill="#66ad66" fill-opacity="0.5"/>
<rect x="906.6" y="1006.01" width="52.2" height="24.47" fill="#ba6bd6" fill-opacity="0.5"/>
<rect x="964.6" y="1027.35" width="52.2" height="3.12" fill="#60c6be" fill-opacity="0.5"/>
<rect x="1022.6" y="1030.47" width="52.2" height="32.02" fill="#fcd468" fill-opacity="0.5"/>
<path d="M666.9 1030.47H1083.3" stroke="#000" stroke-width="3.6" fill="none"/>
<clipPath id="cp_a32"><rect x="666.9" y="899.9" width="416.4" height="230.9"/></clipPath>
<g fill="#000" clip-path="url(#cp_a32)">
<circle cx="700.7" cy="953.95" r="8.05"/>
<path d="M700.7 942.69L710.81 960.2L690.59 960.2Z"/>
<rect x="692.45" y="916.29" width="16.5" height="16.5"/>
<path d="M688.9 908.4H712.5M700.7 896.6V920.2" fill="none" stroke="#000" stroke-width="2.25"/>
<circle cx="758.7" cy="969.05" r="8.05"/>
<path d="M758.7 951.8L768.81 969.31L748.59 969.31Z"/>
<rect x="750.45" y="935.81" width="16.5" height="16.5"/>
<path d="M746.9 1011.73H770.5M758.7 999.93V1023.53" fill="none" stroke="#000" stroke-width="2.25"/>
<circle cx="816.7" cy="955.77" r="8.05"/>
<path d="M816.7 994.75L826.81 1012.25L806.59 1012.25Z"/>
<rect x="808.45" y="972.25" width="16.5" height="16.5"/>
<path d="M804.9 1034.64H828.5M816.7 1022.84V1046.44" fill="none" stroke="#000" stroke-width="2.25"/>
<circle cx="874.7" cy="1055.46" r="8.05"/>
<path d="M874.7 955.19L884.81 972.69L864.59 972.69Z"/>
<rect x="866.45" y="931.38" width="16.5" height="16.5"/>
<path d="M862.9 920.11H886.5M874.7 908.31V931.91" fill="none" stroke="#000" stroke-width="2.25"/>
<circle cx="932.7" cy="1066.92" r="8.05"/>
<path d="M932.7 965.08L942.81 982.58L922.59 982.58Z"/>
<rect x="924.45" y="946.22" width="16.5" height="16.5"/>
<path d="M920.9 1024.23H944.5M932.7 1012.43V1036.03" fill="none" stroke="#000" stroke-width="2.25"/>
<circle cx="990.7" cy="1056.76" r="8.05"/>
<path d="M990.7 1009.07L1000.81 1026.57L980.59 1026.57Z"/>
<rect x="982.45" y="979.54" width="16.5" height="16.5"/>
<path d="M978.9 1037.76H1002.5M990.7 1025.96V1049.56" fill="none" stroke="#000" stroke-width="2.25"/>
<circle cx="1048.7" cy="1107.52" r="8.05"/>
<path d="M1048.7 1019.74L1058.81 1037.24L1038.59 1037.24Z"/>
<rect x="1040.45" y="985.26" width="16.5" height="16.5"/>
<path d="M1036.9 1120.54H1060.5M1048.7 1108.74V1132.34" fill="none" stroke="#000" stroke-width="2.25"/>
</g>
<rect x="666.9" y="899.9" width="416.4" height="230.9" fill="none" stroke="#aeaeae" stroke-width="2.05"/>
<path d="M654.6 1093.73H665.9M654.6 1030.47H665.9M654.6 967.48H665.9M654.6 904.49H665.9M700.7 1131.8V1141.5M758.7 1131.8V1141.5M816.7 1131.8V1141.5M874.7 1131.8V1141.5M932.7 1131.8V1141.5M990.7 1131.8V1141.5M1048.7 1131.8V1141.5" stroke="#a8a8a8" stroke-width="1.5" fill="none"/>
<g font-size="20.6" color="#4d4d4d" text-anchor="end">
<text x="644.8" y="1102.13">-0.1</text>
<text x="644.8" y="1038.87">0.0</text>
<text x="644.8" y="975.88">0.1</text>
<text x="644.8" y="912.89">0.2</text>
</g>
<g font-size="20.6" color="#4d4d4d" text-anchor="end">
<text transform="translate(717.7 1152.1) rotate(-90)">BASE</text>
<text transform="translate(775.7 1152.1) rotate(-90)">SS</text>
<text transform="translate(833.7 1152.1) rotate(-90)">DS</text>
<text transform="translate(891.7 1152.1) rotate(-90)">C</text>
<text transform="translate(949.7 1152.1) rotate(-90)">C+SS</text>
<text transform="translate(1007.7 1152.1) rotate(-90)">C+DS</text>
<text transform="translate(1065.7 1152.1) rotate(-90)">IAP</text>
</g>
</g>
<text x="1376.5" y="878.8" font-size="25.0" text-anchor="middle" color="#1a1a1a">LC|Pasture</text>
<g>
<path d="M1168.3 1070.17H1584.7M1168.3 998.59H1584.7M1168.3 927.01H1584.7" stroke="#e5e5e5" stroke-width="1" fill="none"/>
<path d="M1168.3 1105.96H1584.7M1168.3 1034.38H1584.7M1168.3 962.8H1584.7M1202.4 899.9V1130.8M1260.4 899.9V1130.8M1318.4 899.9V1130.8M1376.4 899.9V1130.8M1434.4 899.9V1130.8M1492.4 899.9V1130.8M1550.4 899.9V1130.8" stroke="#d9d9d9" stroke-width="1.75" fill="none"/>
<rect x="1176.3" y="946.66" width="52.2" height="16.14" fill="#4d4d4d" fill-opacity="0.5"/>
<rect x="1234.3" y="960.46" width="52.2" height="2.34" fill="#fa7f52" fill-opacity="0.5"/>
<rect x="1292.3" y="962.8" width="52.2" height="11.97" fill="#93b4ec" fill-opacity="0.5"/>
<rect x="1350.3" y="962.8" width="52.2" height="34.62" fill="#66ad66" fill-opacity="0.5"/>
<rect x="1408.3" y="962.8" width="52.2" height="55.44" fill="#ba6bd6" fill-opacity="0.5"/>
<rect x="1466.3" y="962.8" width="52.2" height="73.66" fill="#60c6be" fill-opacity="0.5"/>
<rect x="1524.3" y="962.8" width="52.2" height="92.66" fill="#fcd468" fill-opacity="0.5"/>
<path d="M1168.3 962.8H1584.7" stroke="#000" stroke-width="3.6" fill="none"/>
<clipPath id="cp_a33"><rect x="1168.3" y="899.9" width="416.4" height="230.9"/></clipPath>
<g fill="#000" clip-path="url(#cp_a33)">
<circle cx="1202.4" cy="962.28" r="8.05"/>
<path d="M1202.4 898.44L1212.51 915.95L1192.29 915.95Z"/>
<rect x="1194.15" y="932.68" width="16.5" height="16.5"/>
<path d="M1190.6 973.47H1214.2M1202.4 961.67V985.27" fill="none" stroke="#000" stroke-width="2.25"/>
<circle cx="1260.4" cy="988.83" r="8.05"/>
<path d="M1260.4 898.44L1270.51 915.95L1250.29 915.95Z"/>
<rect x="1252.15" y="955.85" width="16.5" height="16.5"/>
<path d="M1248.6 976.59H1272.2M1260.4 964.79V988.39" fill="none" stroke="#000" stroke-width="2.25"/>
<circle cx="1318.4" cy="987.01" r="8.05"/>
<path d="M1318.4 955.71L1328.51 973.21L1308.29 973.21Z"/>
<rect x="1310.15" y="966.52" width="16.5" height="16.5"/>
<path d="M1306.6 973.21H1330.2M1318.4 961.41V985.01" fill="none" stroke="#000" stroke-width="2.25"/>
<circle cx="1376.4" cy="1076.03" r="8.05"/>
<path d="M1376.4 934.36L1386.51 951.87L1366.29 951.87Z"/>
<rect x="1368.15" y="944.92" width="16.5" height="16.5"/>
<path d="M1364.6 1016.42H1388.2M1376.4 1004.62V1028.22" fill="none" stroke="#000" stroke-width="2.25"/>
<circle cx="1434.4" cy="1088.52" r="8.05"/>
<path d="M1434.4 936.18L1444.51 953.69L1424.29 953.69Z"/>
<rect x="1426.15" y="961.06" width="16.5" height="16.5"/>
<path d="M1422.6 1070.3H1446.2M1434.4 1058.5V1082.1" fill="none" stroke="#000" stroke-width="2.25"/>
<circle cx="1492.4" cy="1088.52" r="8.05"/>
<path d="M1492.4 989.02L1502.51 1006.53L1482.29 1006.53Z"/>
<rect x="1484.15" y="973.55" width="16.5" height="16.5"/>
<path d="M1480.6 1078.11H1504.2M1492.4 1066.31V1089.91" fill="none" stroke="#000" stroke-width="2.25"/>
<circle cx="1550.4" cy="1121.06" r="8.05"/>
<path d="M1550.4 989.8L1560.51 1007.31L1540.29 1007.31Z"/>
<rect x="1542.15" y="999.58" width="16.5" height="16.5"/>
<path d="M1538.6 1091.12H1562.2M1550.4 1079.32V1102.92" fill="none" stroke="#000" stroke-width="2.25"/>
</g>
<rect x="1168.3" y="899.9" width="416.4" height="230.9" fill="none" stroke="#aeaeae" stroke-width="2.05"/>
<path d="M1156 1105.96H1167.3M1156 1034.38H1167.3M1156 962.8H1167.3M1202.4 1131.8V1141.5M1260.4 1131.8V1141.5M1318.4 1131.8V1141.5M1376.4 1131.8V1141.5M1434.4 1131.8V1141.5M1492.4 1131.8V1141.5M1550.4 1131.8V1141.5" stroke="#a8a8a8" stroke-width="1.5" fill="none"/>
<g font-size="20.6" color="#4d4d4d" text-anchor="end">
<text x="1147.7" y="1114.36">-0.4</text>
<text x="1147.7" y="1042.78">-0.2</text>
<text x="1147.7" y="971.2">0.0</text>
</g>
<g font-size="20.6" color="#4d4d4d" text-anchor="end">
<text transform="translate(1219.4 1152.1) rotate(-90)">BASE</text>
<text transform="translate(1277.4 1152.1) rotate(-90)">SS</text>
<text transform="translate(1335.4 1152.1) rotate(-90)">DS</text>
<text transform="translate(1393.4 1152.1) rotate(-90)">C</text>
<text transform="translate(1451.4 1152.1) rotate(-90)">C+SS</text>
<text transform="translate(1509.4 1152.1) rotate(-90)">C+DS</text>
<text transform="translate(1567.4 1152.1) rotate(-90)">IAP</text>
</g>
</g>
<text x="363.75" y="1378.9" font-size="25.0" text-anchor="middle" color="#1a1a1a">Agr. Demand|Liv.</text>
<g>
<path d="M153.5 1590.77H574M153.5 1532.21H574M153.5 1473.64H574M153.5 1415.08H574" stroke="#e5e5e5" stroke-width="1" fill="none"/>
<path d="M153.5 1620.06H574M153.5 1561.49H574M153.5 1502.92H574M153.5 1444.36H574M188 1399.6V1630.6M246.57 1399.6V1630.6M305.14 1399.6V1630.6M363.71 1399.6V1630.6M422.28 1399.6V1630.6M480.85 1399.6V1630.6M539.42 1399.6V1630.6" stroke="#d9d9d9" stroke-width="1.75" fill="none"/>
<rect x="161.64" y="1453.99" width="52.71" height="166.07" fill="#4d4d4d" fill-opacity="0.5"/>
<rect x="220.21" y="1453.99" width="52.71" height="166.07" fill="#fa7f52" fill-opacity="0.5"/>
<rect x="278.78" y="1586.74" width="52.71" height="33.32" fill="#93b4ec" fill-opacity="0.5"/>
<rect x="337.35" y="1460.76" width="52.71" height="159.3" fill="#66ad66" fill-opacity="0.5"/>
<rect x="395.92" y="1459.98" width="52.71" height="160.08" fill="#ba6bd6" fill-opacity="0.5"/>
<rect x="454.49" y="1578.93" width="52.71" height="41.13" fill="#60c6be" fill-opacity="0.5"/>
<rect x="513.06" y="1578.93" width="52.71" height="41.13" fill="#fcd468" fill-opacity="0.5"/>
<path d="M153.5 1620.06H574" stroke="#000" stroke-width="3.6" fill="none"/>
<clipPath id="cp_b11"><rect x="153.5" y="1399.6" width="420.5" height="231"/></clipPath>
<g fill="#000" clip-path="url(#cp_b11)">
<circle cx="188" cy="1482.1" r="8.05"/>
<path d="M188 1405.25L198.11 1422.76L177.89 1422.76Z"/>
<rect x="179.75" y="1496.5" width="16.5" height="16.5"/>
<path d="M176.2 1411.82H199.8M188 1400.02V1423.62" fill="none" stroke="#000" stroke-width="2.25"/>
<circle cx="246.57" cy="1482.1" r="8.05"/>
<path d="M246.57 1399L256.68 1416.51L236.46 1416.51Z"/>
<rect x="238.32" y="1491.29" width="16.5" height="16.5"/>
<path d="M234.77 1422.76H258.37M246.57 1410.96V1434.56" fill="none" stroke="#000" stroke-width="2.25"/>
<circle cx="305.14" cy="1566.18" r="8.05"/>
<path d="M305.14 1576.52L315.25 1594.03L295.03 1594.03Z"/>
<rect x="296.89" y="1578.75" width="16.5" height="16.5"/>
<path d="M293.34 1605.22H316.94M305.14 1593.42V1617.02" fill="none" stroke="#000" stroke-width="2.25"/>
<circle cx="363.71" cy="1497.46" r="8.05"/>
<path d="M363.71 1418.26L373.82 1435.77L353.6 1435.77Z"/>
<rect x="355.46" y="1498.84" width="16.5" height="16.5"/>
<path d="M351.91 1408.7H375.51M363.71 1396.9V1420.5" fill="none" stroke="#000" stroke-width="2.25"/>
<circle cx="422.28" cy="1496.16" r="8.05"/>
<path d="M422.28 1411.24L432.39 1428.74L412.17 1428.74Z"/>
<rect x="414.03" y="1493.63" width="16.5" height="16.5"/>
<path d="M410.48 1417.55H434.08M422.28 1405.75V1429.35" fill="none" stroke="#000" stroke-width="2.25"/>
<circle cx="480.85" cy="1526.87" r="8.05"/>
<path d="M480.85 1583.03L490.96 1600.53L470.74 1600.53Z"/>
<rect x="472.6" y="1579.27" width="16.5" height="16.5"/>
<path d="M469.05 1604.96H492.65M480.85 1593.16V1616.76" fill="none" stroke="#000" stroke-width="2.25"/>
<circle cx="539.42" cy="1528.43" r="8.05"/>
<path d="M539.42 1581.73L549.53 1599.23L529.31 1599.23Z"/>
<rect x="531.17" y="1574.58" width="16.5" height="16.5"/>
<path d="M527.62 1608.86H551.22M539.42 1597.06V1620.66" fill="none" stroke="#000" stroke-width="2.25"/>
</g>
<rect x="153.5" y="1399.6" width="420.5" height="231" fill="none" stroke="#aeaeae" stroke-width="2.05"/>
<path d="M141.2 1620.06H152.5M141.2 1561.49H152.5M141.2 1502.92H152.5M141.2 1444.36H152.5M188 1631.6V1641.3M246.57 1631.6V1641.3M305.14 1631.6V1641.3M363.71 1631.6V1641.3M422.28 1631.6V1641.3M480.85 1631.6V1641.3M539.42 1631.6V1641.3" stroke="#a8a8a8" stroke-width="1.5" fill="none"/>
<g font-size="20.6" color="#4d4d4d" text-anchor="end">
<text x="132.3" y="1628.46">0.0</text>
<text x="132.3" y="1569.89">0.3</text>
<text x="132.3" y="1511.32">0.6</text>
<text x="132.3" y="1452.76">0.9</text>
</g>
<g font-size="20.6" color="#4d4d4d" text-anchor="end">
<text transform="translate(205 1652.2) rotate(-90)">BASE</text>
<text transform="translate(263.57 1652.2) rotate(-90)">SS</text>
<text transform="translate(322.14 1652.2) rotate(-90)">DS</text>
<text transform="translate(380.71 1652.2) rotate(-90)">C</text>
<text transform="translate(439.28 1652.2) rotate(-90)">C+SS</text>
<text transform="translate(497.85 1652.2) rotate(-90)">C+DS</text>
<text transform="translate(556.42 1652.2) rotate(-90)">IAP</text>
</g>
</g>
<text x="869.25" y="1378.9" font-size="25.0" text-anchor="middle" color="#1a1a1a">Agr. Demand|Crops|Ene.</text>
<g>
<path d="M659 1588.17H1079.5M659 1524.53H1079.5M659 1461.02H1079.5" stroke="#e5e5e5" stroke-width="1" fill="none"/>
<path d="M659 1620.06H1079.5M659 1556.41H1079.5M659 1492.77H1079.5M659 1429.26H1079.5M693.5 1399.6V1630.6M752.07 1399.6V1630.6M810.64 1399.6V1630.6M869.21 1399.6V1630.6M927.78 1399.6V1630.6M986.35 1399.6V1630.6M1044.92 1399.6V1630.6" stroke="#d9d9d9" stroke-width="1.75" fill="none"/>
<rect x="667.14" y="1511.51" width="52.71" height="108.54" fill="#4d4d4d" fill-opacity="0.5"/>
<rect x="725.71" y="1509.43" width="52.71" height="110.62" fill="#fa7f52" fill-opacity="0.5"/>
<rect x="784.28" y="1506.31" width="52.71" height="113.75" fill="#93b4ec" fill-opacity="0.5"/>
<rect x="842.85" y="1525.83" width="52.71" height="94.23" fill="#66ad66" fill-opacity="0.5"/>
<rect x="901.42" y="1525.57" width="52.71" height="94.49" fill="#ba6bd6" fill-opacity="0.5"/>
<rect x="959.99" y="1525.57" width="52.71" height="94.49" fill="#60c6be" fill-opacity="0.5"/>
<rect x="1018.56" y="1528.17" width="52.71" height="91.88" fill="#fcd468" fill-opacity="0.5"/>
<path d="M659 1620.06H1079.5" stroke="#000" stroke-width="3.6" fill="none"/>
<clipPath id="cp_b12"><rect x="659" y="1399.6" width="420.5" height="231"/></clipPath>
<g fill="#000" clip-path="url(#cp_b12)">
<circle cx="693.5" cy="1428.22" r="8.05"/>
<path d="M693.5 1583.81L703.61 1601.31L683.39 1601.31Z"/>
<rect x="685.25" y="1421.01" width="16.5" height="16.5"/>
<path d="M681.7 1592.2H705.3M693.5 1580.4V1604" fill="none" stroke="#000" stroke-width="2.25"/>
<circle cx="752.07" cy="1419.37" r="8.05"/>
<path d="M752.07 1583.81L762.18 1601.31L741.96 1601.31Z"/>
<rect x="743.82" y="1421.01" width="16.5" height="16.5"/>
<path d="M740.27 1592.2H763.87M752.07 1580.4V1604" fill="none" stroke="#000" stroke-width="2.25"/>
<circle cx="810.64" cy="1408.7" r="8.05"/>
<path d="M810.64 1583.81L820.75 1601.31L800.53 1601.31Z"/>
<rect x="802.39" y="1421.01" width="16.5" height="16.5"/>
<path d="M798.84 1592.2H822.44M810.64 1580.4V1604" fill="none" stroke="#000" stroke-width="2.25"/>
<circle cx="869.21" cy="1488.61" r="8.05"/>
<path d="M869.21 1583.81L879.32 1601.31L859.1 1601.31Z"/>
<rect x="860.96" y="1421.01" width="16.5" height="16.5"/>
<path d="M857.41 1592.2H881.01M869.21 1580.4V1604" fill="none" stroke="#000" stroke-width="2.25"/>
<circle cx="927.78" cy="1484.18" r="8.05"/>
<path d="M927.78 1583.81L937.89 1601.31L917.67 1601.31Z"/>
<rect x="919.53" y="1421.01" width="16.5" height="16.5"/>
<path d="M915.98 1592.2H939.58M927.78 1580.4V1604" fill="none" stroke="#000" stroke-width="2.25"/>
<circle cx="986.35" cy="1484.18" r="8.05"/>
<path d="M986.35 1583.81L996.46 1601.31L976.24 1601.31Z"/>
<rect x="978.1" y="1421.01" width="16.5" height="16.5"/>
<path d="M974.55 1592.2H998.15M986.35 1580.4V1604" fill="none" stroke="#000" stroke-width="2.25"/>
<circle cx="1044.92" cy="1495.12" r="8.05"/>
<path d="M1044.92 1583.81L1055.03 1601.31L1034.81 1601.31Z"/>
<rect x="1036.67" y="1421.01" width="16.5" height="16.5"/>
<path d="M1033.12 1592.2H1056.72M1044.92 1580.4V1604" fill="none" stroke="#000" stroke-width="2.25"/>
</g>
<rect x="659" y="1399.6" width="420.5" height="231" fill="none" stroke="#aeaeae" stroke-width="2.05"/>
<path d="M646.7 1620.06H658M646.7 1556.41H658M646.7 1492.77H658M646.7 1429.26H658M693.5 1631.6V1641.3M752.07 1631.6V1641.3M810.64 1631.6V1641.3M869.21 1631.6V1641.3M927.78 1631.6V1641.3M986.35 1631.6V1641.3M1044.92 1631.6V1641.3" stroke="#a8a8a8" stroke-width="1.5" fill="none"/>
<g font-size="20.6" color="#4d4d4d" text-anchor="end">
<text x="638" y="1628.46">0.0</text>
<text x="638" y="1564.81">0.2</text>
<text x="638" y="1501.17">0.4</text>
<text x="638" y="1437.66">0.6</text>
</g>
<g font-size="20.6" color="#4d4d4d" text-anchor="end">
<text transform="translate(710.5 1652.2) rotate(-90)">BASE</text>
<text transform="translate(769.07 1652.2) rotate(-90)">SS</text>
<text transform="translate(827.64 1652.2) rotate(-90)">DS</text>
<text transform="translate(886.21 1652.2) rotate(-90)">C</text>
<text transform="translate(944.78 1652.2) rotate(-90)">C+SS</text>
<text transform="translate(1003.35 1652.2) rotate(-90)">C+DS</text>
<text transform="translate(1061.92 1652.2) rotate(-90)">IAP</text>
</g>
</g>
<text x="1375.15" y="1378.9" font-size="25.0" text-anchor="middle" color="#1a1a1a">Agr. Demand|Crops|Non-E.</text>
<g>
<path d="M1164.9 1591.29H1585.4M1164.9 1533.77H1585.4M1164.9 1476.25H1585.4M1164.9 1418.72H1585.4" stroke="#e5e5e5" stroke-width="1" fill="none"/>
<path d="M1164.9 1620.06H1585.4M1164.9 1562.53H1585.4M1164.9 1505.01H1585.4M1164.9 1447.48H1585.4M1198.8 1399.6V1630.6M1257.45 1399.6V1630.6M1316.1 1399.6V1630.6M1374.75 1399.6V1630.6M1433.4 1399.6V1630.6M1492.05 1399.6V1630.6M1550.7 1399.6V1630.6" stroke="#d9d9d9" stroke-width="1.75" fill="none"/>
<rect x="1172.41" y="1464.66" width="52.78" height="155.39" fill="#4d4d4d" fill-opacity="0.5"/>
<rect x="1231.06" y="1459.98" width="52.78" height="160.08" fill="#fa7f52" fill-opacity="0.5"/>
<rect x="1289.71" y="1538.58" width="52.78" height="81.47" fill="#93b4ec" fill-opacity="0.5"/>
<rect x="1348.36" y="1472.47" width="52.78" height="147.58" fill="#66ad66" fill-opacity="0.5"/>
<rect x="1407.01" y="1469.61" width="52.78" height="150.45" fill="#ba6bd6" fill-opacity="0.5"/>
<rect x="1465.66" y="1537.28" width="52.78" height="82.77" fill="#60c6be" fill-opacity="0.5"/>
<rect x="1524.31" y="1537.28" width="52.78" height="82.77" fill="#fcd468" fill-opacity="0.5"/>
<path d="M1164.9 1620.06H1585.4" stroke="#000" stroke-width="3.6" fill="none"/>
<clipPath id="cp_b13"><rect x="1164.9" y="1399.6" width="420.5" height="231"/></clipPath>
<g fill="#000" clip-path="url(#cp_b13)">
<circle cx="1198.8" cy="1486.01" r="8.05"/>
<path d="M1198.8 1401.61L1208.91 1419.11L1188.69 1419.11Z"/>
<rect x="1190.55" y="1452.51" width="16.5" height="16.5"/>
<path d="M1187 1496.42H1210.6M1198.8 1484.62V1508.22" fill="none" stroke="#000" stroke-width="2.25"/>
<circle cx="1257.45" cy="1474.81" r="8.05"/>
<path d="M1257.45 1397.44L1267.56 1414.95L1247.34 1414.95Z"/>
<rect x="1249.2" y="1443.92" width="16.5" height="16.5"/>
<path d="M1245.65 1504.75H1269.25M1257.45 1492.95V1516.55" fill="none" stroke="#000" stroke-width="2.25"/>
<circle cx="1316.1" cy="1527.65" r="8.05"/>
<path d="M1316.1 1536.18L1326.21 1553.68L1305.99 1553.68Z"/>
<rect x="1307.85" y="1486.09" width="16.5" height="16.5"/>
<path d="M1304.3 1579.19H1327.9M1316.1 1567.39V1590.99" fill="none" stroke="#000" stroke-width="2.25"/>
<circle cx="1374.75" cy="1499.02" r="8.05"/>
<path d="M1374.75 1417.74L1384.86 1435.25L1364.64 1435.25Z"/>
<rect x="1366.5" y="1457.71" width="16.5" height="16.5"/>
<path d="M1362.95 1495.12H1386.55M1374.75 1483.32V1506.92" fill="none" stroke="#000" stroke-width="2.25"/>
<circle cx="1433.4" cy="1488.61" r="8.05"/>
<path d="M1433.4 1414.36L1443.51 1431.87L1423.29 1431.87Z"/>
<rect x="1425.15" y="1449.12" width="16.5" height="16.5"/>
<path d="M1421.6 1504.23H1445.2M1433.4 1492.43V1516.03" fill="none" stroke="#000" stroke-width="2.25"/>
<circle cx="1492.05" cy="1511.25" r="8.05"/>
<path d="M1492.05 1547.11L1502.16 1564.61L1481.94 1564.61Z"/>
<rect x="1483.8" y="1489.47" width="16.5" height="16.5"/>
<path d="M1480.25 1579.71H1503.85M1492.05 1567.91V1591.51" fill="none" stroke="#000" stroke-width="2.25"/>
<circle cx="1550.7" cy="1512.82" r="8.05"/>
<path d="M1550.7 1543.2L1560.81 1560.71L1540.59 1560.71Z"/>
<rect x="1542.45" y="1484.78" width="16.5" height="16.5"/>
<path d="M1538.9 1584.4H1562.5M1550.7 1572.6V1596.2" fill="none" stroke="#000" stroke-width="2.25"/>
</g>
<rect x="1164.9" y="1399.6" width="420.5" height="231" fill="none" stroke="#aeaeae" stroke-width="2.05"/>
<path d="M1152.6 1620.06H1163.9M1152.6 1562.53H1163.9M1152.6 1505.01H1163.9M1152.6 1447.48H1163.9M1198.8 1631.6V1641.3M1257.45 1631.6V1641.3M1316.1 1631.6V1641.3M1374.75 1631.6V1641.3M1433.4 1631.6V1641.3M1492.05 1631.6V1641.3M1550.7 1631.6V1641.3" stroke="#a8a8a8" stroke-width="1.5" fill="none"/>
<g font-size="20.6" color="#4d4d4d" text-anchor="end">
<text x="1143.4" y="1628.46">0.00</text>
<text x="1143.4" y="1570.93">0.25</text>
<text x="1143.4" y="1513.41">0.50</text>
<text x="1143.4" y="1455.88">0.75</text>
</g>
<g font-size="20.6" color="#4d4d4d" text-anchor="end">
<text transform="translate(1215.8 1652.2) rotate(-90)">BASE</text>
<text transform="translate(1274.45 1652.2) rotate(-90)">SS</text>
<text transform="translate(1333.1 1652.2) rotate(-90)">DS</text>
<text transform="translate(1391.75 1652.2) rotate(-90)">C</text>
<text transform="translate(1450.4 1652.2) rotate(-90)">C+SS</text>
<text transform="translate(1509.05 1652.2) rotate(-90)">C+DS</text>
<text transform="translate(1567.7 1652.2) rotate(-90)">IAP</text>
</g>
</g>
<text x="363.75" y="1769.9" font-size="25.0" text-anchor="middle" color="#1a1a1a">Agr. Supply|Liv.</text>
<g>
<path d="M153.5 1982.29H574M153.5 1923.73H574M153.5 1865.16H574M153.5 1806.6H574" stroke="#e5e5e5" stroke-width="1" fill="none"/>
<path d="M153.5 2011.58H574M153.5 1953.01H574M153.5 1894.45H574M153.5 1835.88H574M188 1790.6V2021.6M246.57 1790.6V2021.6M305.14 1790.6V2021.6M363.71 1790.6V2021.6M422.28 1790.6V2021.6M480.85 1790.6V2021.6M539.42 1790.6V2021.6" stroke="#d9d9d9" stroke-width="1.75" fill="none"/>
<rect x="161.64" y="1845.51" width="52.71" height="166.07" fill="#4d4d4d" fill-opacity="0.5"/>
<rect x="220.21" y="1844.21" width="52.71" height="167.37" fill="#fa7f52" fill-opacity="0.5"/>
<rect x="278.78" y="1977.74" width="52.71" height="33.84" fill="#93b4ec" fill-opacity="0.5"/>
<rect x="337.35" y="1852.28" width="52.71" height="159.3" fill="#66ad66" fill-opacity="0.5"/>
<rect x="395.92" y="1850.2" width="52.71" height="161.38" fill="#ba6bd6" fill-opacity="0.5"/>
<rect x="454.49" y="1970.19" width="52.71" height="41.39" fill="#60c6be" fill-opacity="0.5"/>
<rect x="513.06" y="1969.93" width="52.71" height="41.65" fill="#fcd468" fill-opacity="0.5"/>
<path d="M153.5 2011.58H574" stroke="#000" stroke-width="3.6" fill="none"/>
<clipPath id="cp_b21"><rect x="153.5" y="1790.6" width="420.5" height="231"/></clipPath>
<g fill="#000" clip-path="url(#cp_b21)">
<circle cx="188" cy="1872.58" r="8.05"/>
<path d="M188 1796.25L198.11 1813.76L177.89 1813.76Z"/>
<rect x="179.75" y="1887.5" width="16.5" height="16.5"/>
<path d="M176.2 1802.3H199.8M188 1790.5V1814.1" fill="none" stroke="#000" stroke-width="2.25"/>
<circle cx="246.57" cy="1873.1" r="8.05"/>
<path d="M246.57 1789.74L256.68 1807.25L236.46 1807.25Z"/>
<rect x="238.32" y="1882.29" width="16.5" height="16.5"/>
<path d="M234.77 1813.23H258.37M246.57 1801.43V1825.03" fill="none" stroke="#000" stroke-width="2.25"/>
<circle cx="305.14" cy="1956.92" r="8.05"/>
<path d="M305.14 1967.52L315.25 1985.03L295.03 1985.03Z"/>
<rect x="296.89" y="1970.01" width="16.5" height="16.5"/>
<path d="M293.34 1996.74H316.94M305.14 1984.94V2008.54" fill="none" stroke="#000" stroke-width="2.25"/>
<circle cx="363.71" cy="1888.2" r="8.05"/>
<path d="M363.71 1809.26L373.82 1826.77L353.6 1826.77Z"/>
<rect x="355.46" y="1889.32" width="16.5" height="16.5"/>
<path d="M351.91 1799.44H375.51M363.71 1787.64V1811.24" fill="none" stroke="#000" stroke-width="2.25"/>
<circle cx="422.28" cy="1886.9" r="8.05"/>
<path d="M422.28 1802.76L432.39 1820.26L412.17 1820.26Z"/>
<rect x="414.03" y="1884.11" width="16.5" height="16.5"/>
<path d="M410.48 1808.03H434.08M422.28 1796.23V1819.83" fill="none" stroke="#000" stroke-width="2.25"/>
<circle cx="480.85" cy="1917.35" r="8.05"/>
<path d="M480.85 1974.03L490.96 1991.53L470.74 1991.53Z"/>
<rect x="472.6" y="1970.79" width="16.5" height="16.5"/>
<path d="M469.05 1996.22H492.65M480.85 1984.42V2008.02" fill="none" stroke="#000" stroke-width="2.25"/>
<circle cx="539.42" cy="1919.95" r="8.05"/>
<path d="M539.42 1972.73L549.53 1990.23L529.31 1990.23Z"/>
<rect x="531.17" y="1965.84" width="16.5" height="16.5"/>
<path d="M527.62 2000.64H551.22M539.42 1988.84V2012.44" fill="none" stroke="#000" stroke-width="2.25"/>
</g>
<rect x="153.5" y="1790.6" width="420.5" height="231" fill="none" stroke="#aeaeae" stroke-width="2.05"/>
<path d="M141.2 2011.58H152.5M141.2 1953.01H152.5M141.2 1894.45H152.5M141.2 1835.88H152.5M188 2022.6V2032.3M246.57 2022.6V2032.3M305.14 2022.6V2032.3M363.71 2022.6V2032.3M422.28 2022.6V2032.3M480.85 2022.6V2032.3M539.42 2022.6V2032.3" stroke="#a8a8a8" stroke-width="1.5" fill="none"/>
<g font-size="20.6" color="#4d4d4d" text-anchor="end">
<text x="132.3" y="2019.98">0.0</text>
<text x="132.3" y="1961.41">0.3</text>
<text x="132.3" y="1902.85">0.6</text>
<text x="132.3" y="1844.28">0.9</text>
</g>
<g font-size="20.6" color="#4d4d4d" text-anchor="end">
<text transform="translate(205 2043.2) rotate(-90)">BASE</text>
<text transform="translate(263.57 2043.2) rotate(-90)">SS</text>
<text transform="translate(322.14 2043.2) rotate(-90)">DS</text>
<text transform="translate(380.71 2043.2) rotate(-90)">C</text>
<text transform="translate(439.28 2043.2) rotate(-90)">C+SS</text>
<text transform="translate(497.85 2043.2) rotate(-90)">C+DS</text>
<text transform="translate(556.42 2043.2) rotate(-90)">IAP</text>
</g>
</g>
<text x="869.25" y="1769.9" font-size="25.0" text-anchor="middle" color="#1a1a1a">Agr. Supply|Crops|Tot.</text>
<g>
<path d="M659 1971.62H1079.5M659 1891.71H1079.5M659 1811.8H1079.5" stroke="#e5e5e5" stroke-width="1" fill="none"/>
<path d="M659 2011.58H1079.5M659 1931.67H1079.5M659 1851.76H1079.5M693.5 1790.6V2021.6M752.07 1790.6V2021.6M810.64 1790.6V2021.6M869.21 1790.6V2021.6M927.78 1790.6V2021.6M986.35 1790.6V2021.6M1044.92 1790.6V2021.6" stroke="#d9d9d9" stroke-width="1.75" fill="none"/>
<rect x="667.14" y="1849.68" width="52.71" height="161.9" fill="#4d4d4d" fill-opacity="0.5"/>
<rect x="725.71" y="1845.77" width="52.71" height="165.81" fill="#fa7f52" fill-opacity="0.5"/>
<rect x="784.28" y="1898.35" width="52.71" height="113.23" fill="#93b4ec" fill-opacity="0.5"/>
<rect x="842.85" y="1863.47" width="52.71" height="148.11" fill="#66ad66" fill-opacity="0.5"/>
<rect x="901.42" y="1860.61" width="52.71" height="150.97" fill="#ba6bd6" fill-opacity="0.5"/>
<rect x="959.99" y="1907.46" width="52.71" height="104.12" fill="#60c6be" fill-opacity="0.5"/>
<rect x="1018.56" y="1908.5" width="52.71" height="103.08" fill="#fcd468" fill-opacity="0.5"/>
<path d="M659 2011.58H1079.5" stroke="#000" stroke-width="3.6" fill="none"/>
<clipPath id="cp_b22"><rect x="659" y="1790.6" width="420.5" height="231"/></clipPath>
<g fill="#000" clip-path="url(#cp_b22)">
<circle cx="693.5" cy="1823.13" r="8.05"/>
<path d="M693.5 1845.19L703.61 1862.69L683.39 1862.69Z"/>
<rect x="685.25" y="1796.66" width="16.5" height="16.5"/>
<path d="M681.7 1911.36H705.3M693.5 1899.56V1923.16" fill="none" stroke="#000" stroke-width="2.25"/>
<circle cx="752.07" cy="1810.63" r="8.05"/>
<path d="M752.07 1840.76L762.18 1858.27L741.96 1858.27Z"/>
<rect x="743.82" y="1790.67" width="16.5" height="16.5"/>
<path d="M740.27 1917.35H763.87M752.07 1905.55V1929.15" fill="none" stroke="#000" stroke-width="2.25"/>
<circle cx="810.64" cy="1843.17" r="8.05"/>
<path d="M810.64 1937.07L820.75 1954.57L800.53 1954.57Z"/>
<rect x="802.39" y="1820.6" width="16.5" height="16.5"/>
<path d="M798.84 1968.89H822.44M810.64 1957.09V1980.69" fill="none" stroke="#000" stroke-width="2.25"/>
<circle cx="869.21" cy="1862.17" r="8.05"/>
<path d="M869.21 1856.12L879.32 1873.62L859.1 1873.62Z"/>
<rect x="860.96" y="1801.08" width="16.5" height="16.5"/>
<path d="M857.41 1910.84H881.01M869.21 1899.04V1922.64" fill="none" stroke="#000" stroke-width="2.25"/>
<circle cx="927.78" cy="1852.28" r="8.05"/>
<path d="M927.78 1852.99L937.89 1870.5L917.67 1870.5Z"/>
<rect x="919.53" y="1795.09" width="16.5" height="16.5"/>
<path d="M915.98 1917.35H939.58M927.78 1905.55V1929.15" fill="none" stroke="#000" stroke-width="2.25"/>
<circle cx="986.35" cy="1867.9" r="8.05"/>
<path d="M986.35 1944.1L996.46 1961.6L976.24 1961.6Z"/>
<rect x="978.1" y="1823.21" width="16.5" height="16.5"/>
<path d="M974.55 1968.89H998.15M986.35 1957.09V1980.69" fill="none" stroke="#000" stroke-width="2.25"/>
<circle cx="1044.92" cy="1875.18" r="8.05"/>
<path d="M1044.92 1942.27L1055.03 1959.78L1034.81 1959.78Z"/>
<rect x="1036.67" y="1820.08" width="16.5" height="16.5"/>
<path d="M1033.12 1973.31H1056.72M1044.92 1961.51V1985.11" fill="none" stroke="#000" stroke-width="2.25"/>
</g>
<rect x="659" y="1790.6" width="420.5" height="231" fill="none" stroke="#aeaeae" stroke-width="2.05"/>
<path d="M646.7 2011.58H658M646.7 1931.67H658M646.7 1851.76H658M693.5 2022.6V2032.3M752.07 2022.6V2032.3M810.64 2022.6V2032.3M869.21 2022.6V2032.3M927.78 2022.6V2032.3M986.35 2022.6V2032.3M1044.92 2022.6V2032.3" stroke="#a8a8a8" stroke-width="1.5" fill="none"/>
<g font-size="20.6" color="#4d4d4d" text-anchor="end">
<text x="638" y="2019.98">0.0</text>
<text x="638" y="1940.07">0.5</text>
<text x="638" y="1860.16">1.0</text>
</g>
<g font-size="20.6" color="#4d4d4d" text-anchor="end">
<text transform="translate(710.5 2043.2) rotate(-90)">BASE</text>
<text transform="translate(769.07 2043.2) rotate(-90)">SS</text>
<text transform="translate(827.64 2043.2) rotate(-90)">DS</text>
<text transform="translate(886.21 2043.2) rotate(-90)">C</text>
<text transform="translate(944.78 2043.2) rotate(-90)">C+SS</text>
<text transform="translate(1003.35 2043.2) rotate(-90)">C+DS</text>
<text transform="translate(1061.92 2043.2) rotate(-90)">IAP</text>
</g>
</g>
<text x="1375.15" y="1769.9" font-size="25.0" text-anchor="middle" color="#1a1a1a">Productivity|Crops|Total</text>
<g>
<path d="M1164.9 1972.53H1585.4M1164.9 1894.45H1585.4M1164.9 1816.36H1585.4" stroke="#e5e5e5" stroke-width="1" fill="none"/>
<path d="M1164.9 2011.58H1585.4M1164.9 1933.49H1585.4M1164.9 1855.4H1585.4M1198.8 1790.6V2021.6M1257.45 1790.6V2021.6M1316.1 1790.6V2021.6M1374.75 1790.6V2021.6M1433.4 1790.6V2021.6M1492.05 1790.6V2021.6M1550.7 1790.6V2021.6" stroke="#d9d9d9" stroke-width="1.75" fill="none"/>
<rect x="1172.41" y="1896.01" width="52.78" height="115.57" fill="#4d4d4d" fill-opacity="0.5"/>
<rect x="1231.06" y="1877.01" width="52.78" height="134.57" fill="#fa7f52" fill-opacity="0.5"/>
<rect x="1289.71" y="1913.97" width="52.78" height="97.61" fill="#93b4ec" fill-opacity="0.5"/>
<rect x="1348.36" y="1879.09" width="52.78" height="132.49" fill="#66ad66" fill-opacity="0.5"/>
<rect x="1407.01" y="1860.09" width="52.78" height="151.49" fill="#ba6bd6" fill-opacity="0.5"/>
<rect x="1465.66" y="1896.01" width="52.78" height="115.57" fill="#60c6be" fill-opacity="0.5"/>
<rect x="1524.31" y="1873.1" width="52.78" height="138.47" fill="#fcd468" fill-opacity="0.5"/>
<path d="M1164.9 2011.58H1585.4" stroke="#000" stroke-width="3.6" fill="none"/>
<clipPath id="cp_b23"><rect x="1164.9" y="1790.6" width="420.5" height="231"/></clipPath>
<g fill="#000" clip-path="url(#cp_b23)">
<circle cx="1198.8" cy="1880.91" r="8.05"/>
<path d="M1198.8 1892.56L1208.91 1910.06L1188.69 1910.06Z"/>
<rect x="1190.55" y="1842.73" width="16.5" height="16.5"/>
<path d="M1187 1945.46H1210.6M1198.8 1933.66V1957.26" fill="none" stroke="#000" stroke-width="2.25"/>
<circle cx="1257.45" cy="1863.21" r="8.05"/>
<path d="M1257.45 1889.43L1267.56 1906.94L1247.34 1906.94Z"/>
<rect x="1249.2" y="1829.71" width="16.5" height="16.5"/>
<path d="M1245.65 1904.86H1269.25M1257.45 1893.06V1916.66" fill="none" stroke="#000" stroke-width="2.25"/>
<circle cx="1316.1" cy="1895.75" r="8.05"/>
<path d="M1316.1 1941.49L1326.21 1959L1305.99 1959Z"/>
<rect x="1307.85" y="1847.41" width="16.5" height="16.5"/>
<path d="M1304.3 1947.81H1327.9M1316.1 1936.01V1959.61" fill="none" stroke="#000" stroke-width="2.25"/>
<circle cx="1374.75" cy="1828.33" r="8.05"/>
<path d="M1374.75 1880.84L1384.86 1898.35L1364.64 1898.35Z"/>
<rect x="1366.5" y="1841.95" width="16.5" height="16.5"/>
<path d="M1362.95 1942.6H1386.55M1374.75 1930.8V1954.4" fill="none" stroke="#000" stroke-width="2.25"/>
<circle cx="1433.4" cy="1812.45" r="8.05"/>
<path d="M1433.4 1879.02L1443.51 1896.53L1423.29 1896.53Z"/>
<rect x="1425.15" y="1831.53" width="16.5" height="16.5"/>
<path d="M1421.6 1898.61H1445.2M1433.4 1886.81V1910.41" fill="none" stroke="#000" stroke-width="2.25"/>
<circle cx="1492.05" cy="1834.06" r="8.05"/>
<path d="M1492.05 1931.6L1502.16 1949.11L1481.94 1949.11Z"/>
<rect x="1483.8" y="1849.75" width="16.5" height="16.5"/>
<path d="M1480.25 1947.28H1503.85M1492.05 1935.48V1959.08" fill="none" stroke="#000" stroke-width="2.25"/>
<circle cx="1550.7" cy="1799.7" r="8.05"/>
<path d="M1550.7 1928.48L1560.81 1945.98L1540.59 1945.98Z"/>
<rect x="1542.45" y="1841.95" width="16.5" height="16.5"/>
<path d="M1538.9 1902.51H1562.5M1550.7 1890.71V1914.31" fill="none" stroke="#000" stroke-width="2.25"/>
</g>
<rect x="1164.9" y="1790.6" width="420.5" height="231" fill="none" stroke="#aeaeae" stroke-width="2.05"/>
<path d="M1152.6 2011.58H1163.9M1152.6 1933.49H1163.9M1152.6 1855.4H1163.9M1198.8 2022.6V2032.3M1257.45 2022.6V2032.3M1316.1 2022.6V2032.3M1374.75 2022.6V2032.3M1433.4 2022.6V2032.3M1492.05 2022.6V2032.3M1550.7 2022.6V2032.3" stroke="#a8a8a8" stroke-width="1.5" fill="none"/>
<g font-size="20.6" color="#4d4d4d" text-anchor="end">
<text x="1143.4" y="2019.98">0.0</text>
<text x="1143.4" y="1941.89">0.5</text>
<text x="1143.4" y="1863.8">1.0</text>
</g>
<g font-size="20.6" color="#4d4d4d" text-anchor="end">
<text transform="translate(1215.8 2043.2) rotate(-90)">BASE</text>
<text transform="translate(1274.45 2043.2) rotate(-90)">SS</text>
<text transform="translate(1333.1 2043.2) rotate(-90)">DS</text>
<text transform="translate(1391.75 2043.2) rotate(-90)">C</text>
<text transform="translate(1450.4 2043.2) rotate(-90)">C+SS</text>
<text transform="translate(1509.05 2043.2) rotate(-90)">C+DS</text>
<text transform="translate(1567.7 2043.2) rotate(-90)">IAP</text>
</g>
</g>
<text x="363.75" y="2160.9" font-size="25.0" text-anchor="middle" color="#1a1a1a">Productivity|Crops|Non-E.</text>
<g>
<path d="M153.5 2372.12H574M153.5 2312.26H574M153.5 2252.39H574M153.5 2192.52H574" stroke="#e5e5e5" stroke-width="1" fill="none"/>
<path d="M153.5 2402.06H574M153.5 2342.19H574M153.5 2282.32H574M153.5 2222.46H574M188 2181.6V2412.6M246.57 2181.6V2412.6M305.14 2181.6V2412.6M363.71 2181.6V2412.6M422.28 2181.6V2412.6M480.85 2181.6V2412.6M539.42 2181.6V2412.6" stroke="#d9d9d9" stroke-width="1.75" fill="none"/>
<rect x="161.64" y="2296.12" width="52.71" height="105.94" fill="#4d4d4d" fill-opacity="0.5"/>
<rect x="220.21" y="2274.51" width="52.71" height="127.54" fill="#fa7f52" fill-opacity="0.5"/>
<rect x="278.78" y="2324.75" width="52.71" height="77.31" fill="#93b4ec" fill-opacity="0.5"/>
<rect x="337.35" y="2273.21" width="52.71" height="128.84" fill="#66ad66" fill-opacity="0.5"/>
<rect x="395.92" y="2251.09" width="52.71" height="150.97" fill="#ba6bd6" fill-opacity="0.5"/>
<rect x="454.49" y="2298.46" width="52.71" height="103.6" fill="#60c6be" fill-opacity="0.5"/>
<rect x="513.06" y="2270.61" width="52.71" height="131.45" fill="#fcd468" fill-opacity="0.5"/>
<path d="M153.5 2402.06H574" stroke="#000" stroke-width="3.6" fill="none"/>
<clipPath id="cp_b31"><rect x="153.5" y="2181.6" width="420.5" height="231"/></clipPath>
<g fill="#000" clip-path="url(#cp_b31)">
<circle cx="188" cy="2301.06" r="8.05"/>
<path d="M188 2264.82L198.11 2282.32L177.89 2282.32Z"/>
<rect x="179.75" y="2276.67" width="16.5" height="16.5"/>
<path d="M176.2 2321.89H199.8M188 2310.09V2333.69" fill="none" stroke="#000" stroke-width="2.25"/>
<circle cx="246.57" cy="2281.8" r="8.05"/>
<path d="M246.57 2262.21L256.68 2279.72L236.46 2279.72Z"/>
<rect x="238.32" y="2262.36" width="16.5" height="16.5"/>
<path d="M234.77 2270.09H258.37M246.57 2258.29V2281.89" fill="none" stroke="#000" stroke-width="2.25"/>
<circle cx="305.14" cy="2330.48" r="8.05"/>
<path d="M305.14 2329.89L315.25 2347.39L295.03 2347.39Z"/>
<rect x="296.89" y="2289.69" width="16.5" height="16.5"/>
<path d="M293.34 2326.57H316.94M305.14 2314.77V2338.37" fill="none" stroke="#000" stroke-width="2.25"/>
<circle cx="363.71" cy="2225.58" r="8.05"/>
<path d="M363.71 2251.28L373.82 2268.79L353.6 2268.79Z"/>
<rect x="355.46" y="2276.15" width="16.5" height="16.5"/>
<path d="M351.91 2317.46H375.51M363.71 2305.66V2329.26" fill="none" stroke="#000" stroke-width="2.25"/>
<circle cx="422.28" cy="2205.54" r="8.05"/>
<path d="M422.28 2247.9L432.39 2265.4L412.17 2265.4Z"/>
<rect x="414.03" y="2264.44" width="16.5" height="16.5"/>
<path d="M410.48 2263.58H434.08M422.28 2251.78V2275.38" fill="none" stroke="#000" stroke-width="2.25"/>
<circle cx="480.85" cy="2235.47" r="8.05"/>
<path d="M480.85 2318.96L490.96 2336.46L470.74 2336.46Z"/>
<rect x="472.6" y="2293.59" width="16.5" height="16.5"/>
<path d="M469.05 2326.05H492.65M480.85 2314.25V2337.85" fill="none" stroke="#000" stroke-width="2.25"/>
<circle cx="539.42" cy="2190.7" r="8.05"/>
<path d="M539.42 2314.79L549.53 2332.3L529.31 2332.3Z"/>
<rect x="531.17" y="2285.26" width="16.5" height="16.5"/>
<path d="M527.62 2270.09H551.22M539.42 2258.29V2281.89" fill="none" stroke="#000" stroke-width="2.25"/>
</g>
<rect x="153.5" y="2181.6" width="420.5" height="231" fill="none" stroke="#aeaeae" stroke-width="2.05"/>
<path d="M141.2 2402.06H152.5M141.2 2342.19H152.5M141.2 2282.32H152.5M141.2 2222.46H152.5M188 2413.6V2423.3M246.57 2413.6V2423.3M305.14 2413.6V2423.3M363.71 2413.6V2423.3M422.28 2413.6V2423.3M480.85 2413.6V2423.3M539.42 2413.6V2423.3" stroke="#a8a8a8" stroke-width="1.5" fill="none"/>
<g font-size="20.6" color="#4d4d4d" text-anchor="end">
<text x="132.3" y="2410.46">0.0</text>
<text x="132.3" y="2350.59">0.3</text>
<text x="132.3" y="2290.72">0.6</text>
<text x="132.3" y="2230.86">0.9</text>
</g>
<g font-size="20.6" color="#4d4d4d" text-anchor="end">
<text transform="translate(205 2434.2) rotate(-90)">BASE</text>
<text transform="translate(263.57 2434.2) rotate(-90)">SS</text>
<text transform="translate(322.14 2434.2) rotate(-90)">DS</text>
<text transform="translate(380.71 2434.2) rotate(-90)">C</text>
<text transform="translate(439.28 2434.2) rotate(-90)">C+SS</text>
<text transform="translate(497.85 2434.2) rotate(-90)">C+DS</text>
<text transform="translate(556.42 2434.2) rotate(-90)">IAP</text>
</g>
</g>
<text x="869.25" y="2160.9" font-size="25.0" text-anchor="middle" color="#1a1a1a">LC|Cropland</text>
<g>
<path d="M659 2394.38H1079.5M659 2348.18H1079.5M659 2301.97H1079.5M659 2255.77H1079.5M659 2209.57H1079.5" stroke="#e5e5e5" stroke-width="1" fill="none"/>
<path d="M659 2371.34H1079.5M659 2325.14H1079.5M659 2278.94H1079.5M659 2232.74H1079.5M659 2186.54H1079.5M693.5 2181.6V2412.6M752.07 2181.6V2412.6M810.64 2181.6V2412.6M869.21 2181.6V2412.6M927.78 2181.6V2412.6M986.35 2181.6V2412.6M1044.92 2181.6V2412.6" stroke="#d9d9d9" stroke-width="1.75" fill="none"/>
<rect x="667.14" y="2205.02" width="52.71" height="73.92" fill="#4d4d4d" fill-opacity="0.5"/>
<rect x="725.71" y="2234.95" width="52.71" height="43.99" fill="#fa7f52" fill-opacity="0.5"/>
<rect x="784.28" y="2258.9" width="52.71" height="20.04" fill="#93b4ec" fill-opacity="0.5"/>
<rect x="842.85" y="2252.39" width="52.71" height="26.55" fill="#66ad66" fill-opacity="0.5"/>
<rect x="959.99" y="2278.94" width="52.71" height="22.91" fill="#60c6be" fill-opacity="0.5"/>
<rect x="1018.56" y="2278.94" width="52.71" height="54.92" fill="#fcd468" fill-opacity="0.5"/>
<path d="M659 2278.94H1079.5" stroke="#000" stroke-width="3.6" fill="none"/>
<clipPath id="cp_b32"><rect x="659" y="2181.6" width="420.5" height="231"/></clipPath>
<g fill="#000" clip-path="url(#cp_b32)">
<circle cx="693.5" cy="2191.22" r="8.05"/>
<path d="M693.5 2188.03L703.61 2205.54L683.39 2205.54Z"/>
<rect x="685.25" y="2209" width="16.5" height="16.5"/>
<path d="M681.7 2213.35H705.3M693.5 2201.55V2225.15" fill="none" stroke="#000" stroke-width="2.25"/>
<circle cx="752.07" cy="2202.93" r="8.05"/>
<path d="M752.07 2188.03L762.18 2205.54L741.96 2205.54Z"/>
<rect x="743.82" y="2221.23" width="16.5" height="16.5"/>
<path d="M740.27 2304.97H763.87M752.07 2293.17V2316.77" fill="none" stroke="#000" stroke-width="2.25"/>
<circle cx="810.64" cy="2193.82" r="8.05"/>
<path d="M810.64 2260.91L820.75 2278.42L800.53 2278.42Z"/>
<rect x="802.39" y="2235.03" width="16.5" height="16.5"/>
<path d="M798.84 2325.79H822.44M810.64 2313.99V2337.59" fill="none" stroke="#000" stroke-width="2.25"/>
<circle cx="869.21" cy="2327.87" r="8.05"/>
<path d="M869.21 2229.16L879.32 2246.66L859.1 2246.66Z"/>
<rect x="860.96" y="2215.51" width="16.5" height="16.5"/>
<path d="M857.41 2218.55H881.01M869.21 2206.75V2230.35" fill="none" stroke="#000" stroke-width="2.25"/>
<circle cx="927.78" cy="2334.9" r="8.05"/>
<path d="M927.78 2228.9L937.89 2246.4L917.67 2246.4Z"/>
<rect x="919.53" y="2224.1" width="16.5" height="16.5"/>
<path d="M915.98 2313.56H939.58M927.78 2301.76V2325.36" fill="none" stroke="#000" stroke-width="2.25"/>
<circle cx="986.35" cy="2328.39" r="8.05"/>
<path d="M986.35 2296.05L996.46 2313.56L976.24 2313.56Z"/>
<rect x="978.1" y="2235.03" width="16.5" height="16.5"/>
<path d="M974.55 2327.87H998.15M986.35 2316.07V2339.67" fill="none" stroke="#000" stroke-width="2.25"/>
<circle cx="1044.92" cy="2376.03" r="8.05"/>
<path d="M1044.92 2297.35L1055.03 2314.86L1034.81 2314.86Z"/>
<rect x="1036.67" y="2242.84" width="16.5" height="16.5"/>
<path d="M1033.12 2402.06H1056.72M1044.92 2390.26V2413.86" fill="none" stroke="#000" stroke-width="2.25"/>
</g>
<rect x="659" y="2181.6" width="420.5" height="231" fill="none" stroke="#aeaeae" stroke-width="2.05"/>
<path d="M646.7 2371.34H658M646.7 2325.14H658M646.7 2278.94H658M646.7 2232.74H658M646.7 2186.54H658M693.5 2413.6V2423.3M752.07 2413.6V2423.3M810.64 2413.6V2423.3M869.21 2413.6V2423.3M927.78 2413.6V2423.3M986.35 2413.6V2423.3M1044.92 2413.6V2423.3" stroke="#a8a8a8" stroke-width="1.5" fill="none"/>
<g font-size="20.6" color="#4d4d4d" text-anchor="end">
<text x="638" y="2379.74">-0.2</text>
<text x="638" y="2333.54">-0.1</text>
<text x="638" y="2287.34">0.0</text>
<text x="638" y="2241.14">0.1</text>
<text x="638" y="2194.94">0.2</text>
</g>
<g font-size="20.6" color="#4d4d4d" text-anchor="end">
<text transform="translate(710.5 2434.2) rotate(-90)">BASE</text>
<text transform="translate(769.07 2434.2) rotate(-90)">SS</text>
<text transform="translate(827.64 2434.2) rotate(-90)">DS</text>
<text transform="translate(886.21 2434.2) rotate(-90)">C</text>
<text transform="translate(944.78 2434.2) rotate(-90)">C+SS</text>
<text transform="translate(1003.35 2434.2) rotate(-90)">C+DS</text>
<text transform="translate(1061.92 2434.2) rotate(-90)">IAP</text>
</g>
</g>
<text x="1375.15" y="2160.9" font-size="25.0" text-anchor="middle" color="#1a1a1a">LC|Pasture</text>
<g>
<path d="M1164.9 2386.96H1585.4M1164.9 2332.69H1585.4M1164.9 2278.29H1585.4M1164.9 2224.02H1585.4" stroke="#e5e5e5" stroke-width="1" fill="none"/>
<path d="M1164.9 2359.89H1585.4M1164.9 2305.49H1585.4M1164.9 2251.09H1585.4M1164.9 2196.95H1585.4M1198.8 2181.6V2412.6M1257.45 2181.6V2412.6M1316.1 2181.6V2412.6M1374.75 2181.6V2412.6M1433.4 2181.6V2412.6M1492.05 2181.6V2412.6M1550.7 2181.6V2412.6" stroke="#d9d9d9" stroke-width="1.75" fill="none"/>
<rect x="1172.41" y="2235.99" width="52.78" height="15.1" fill="#4d4d4d" fill-opacity="0.5"/>
<rect x="1231.06" y="2251.09" width="52.78" height="1.04" fill="#fa7f52" fill-opacity="0.5"/>
<rect x="1289.71" y="2251.09" width="52.78" height="13.54" fill="#93b4ec" fill-opacity="0.5"/>
<rect x="1348.36" y="2251.09" width="52.78" height="54.66" fill="#66ad66" fill-opacity="0.5"/>
<rect x="1407.01" y="2251.09" width="52.78" height="71.06" fill="#ba6bd6" fill-opacity="0.5"/>
<rect x="1465.66" y="2251.09" width="52.78" height="87.98" fill="#60c6be" fill-opacity="0.5"/>
<rect x="1524.31" y="2251.09" width="52.78" height="104.12" fill="#fcd468" fill-opacity="0.5"/>
<path d="M1164.9 2251.09H1585.4" stroke="#000" stroke-width="3.6" fill="none"/>
<clipPath id="cp_b33"><rect x="1164.9" y="2181.6" width="420.5" height="231"/></clipPath>
<g fill="#000" clip-path="url(#cp_b33)">
<circle cx="1198.8" cy="2257.07" r="8.05"/>
<path d="M1198.8 2183.61L1208.91 2201.11L1188.69 2201.11Z"/>
<rect x="1190.55" y="2221.49" width="16.5" height="16.5"/>
<path d="M1187 2259.68H1210.6M1198.8 2247.88V2271.48" fill="none" stroke="#000" stroke-width="2.25"/>
<circle cx="1257.45" cy="2288.83" r="8.05"/>
<path d="M1257.45 2178.92L1267.56 2196.43L1247.34 2196.43Z"/>
<rect x="1249.2" y="2258.45" width="16.5" height="16.5"/>
<path d="M1245.65 2262.8H1269.25M1257.45 2251V2274.6" fill="none" stroke="#000" stroke-width="2.25"/>
<circle cx="1316.1" cy="2286.23" r="8.05"/>
<path d="M1316.1 2252.32L1326.21 2269.83L1305.99 2269.83Z"/>
<rect x="1307.85" y="2244.14" width="16.5" height="16.5"/>
<path d="M1304.3 2260.2H1327.9M1316.1 2248.4V2272" fill="none" stroke="#000" stroke-width="2.25"/>
<circle cx="1374.75" cy="2365.62" r="8.05"/>
<path d="M1374.75 2262.21L1384.86 2279.72L1364.64 2279.72Z"/>
<rect x="1366.5" y="2231.9" width="16.5" height="16.5"/>
<path d="M1362.95 2344.79H1386.55M1374.75 2332.99V2356.59" fill="none" stroke="#000" stroke-width="2.25"/>
<circle cx="1433.4" cy="2378.11" r="8.05"/>
<path d="M1433.4 2264.82L1443.51 2282.32L1423.29 2282.32Z"/>
<rect x="1425.15" y="2259.76" width="16.5" height="16.5"/>
<path d="M1421.6 2366.92H1445.2M1433.4 2355.12V2378.72" fill="none" stroke="#000" stroke-width="2.25"/>
<circle cx="1492.05" cy="2378.63" r="8.05"/>
<path d="M1492.05 2320L1502.16 2337.5L1481.94 2337.5Z"/>
<rect x="1483.8" y="2250.65" width="16.5" height="16.5"/>
<path d="M1480.25 2387.74H1503.85M1492.05 2375.94V2399.54" fill="none" stroke="#000" stroke-width="2.25"/>
<circle cx="1550.7" cy="2402.06" r="8.05"/>
<path d="M1550.7 2316.88L1560.81 2334.38L1540.59 2334.38Z"/>
<rect x="1542.45" y="2279.28" width="16.5" height="16.5"/>
<path d="M1538.9 2402.06H1562.5M1550.7 2390.26V2413.86" fill="none" stroke="#000" stroke-width="2.25"/>
</g>
<rect x="1164.9" y="2181.6" width="420.5" height="231" fill="none" stroke="#aeaeae" stroke-width="2.05"/>
<path d="M1152.6 2359.89H1163.9M1152.6 2305.49H1163.9M1152.6 2251.09H1163.9M1152.6 2196.95H1163.9M1198.8 2413.6V2423.3M1257.45 2413.6V2423.3M1316.1 2413.6V2423.3M1374.75 2413.6V2423.3M1433.4 2413.6V2423.3M1492.05 2413.6V2423.3M1550.7 2413.6V2423.3" stroke="#a8a8a8" stroke-width="1.5" fill="none"/>
<g font-size="20.6" color="#4d4d4d" text-anchor="end">
<text x="1143.4" y="2368.29">-0.4</text>
<text x="1143.4" y="2313.89">-0.2</text>
<text x="1143.4" y="2259.49">0.0</text>
<text x="1143.4" y="2205.35">0.2</text>
</g>
<g font-size="20.6" color="#4d4d4d" text-anchor="end">
<text transform="translate(1215.8 2434.2) rotate(-90)">BASE</text>
<text transform="translate(1274.45 2434.2) rotate(-90)">SS</text>
<text transform="translate(1333.1 2434.2) rotate(-90)">DS</text>
<text transform="translate(1391.75 2434.2) rotate(-90)">C</text>
<text transform="translate(1450.4 2434.2) rotate(-90)">C+SS</text>
<text transform="translate(1509.05 2434.2) rotate(-90)">C+DS</text>
<text transform="translate(1567.7 2434.2) rotate(-90)">IAP</text>
</g>
</g>
<text x="875.2" y="1237.7" font-size="24.95" text-anchor="middle" fill="#000">Scenario</text>
<text x="869.5" y="2520.5" font-size="24.95" text-anchor="middle" fill="#000">Scenario</text>
<text transform="translate(87.9 624.2) rotate(-90)" font-size="24.95" text-anchor="middle" fill="#000">change / 2010 [various units]</text>
<text transform="translate(87.9 1905.8) rotate(-90)" font-size="24.95" text-anchor="middle" fill="#000">change / 2010 [various units]</text>
<text x="1654.2" y="169.8" font-size="28.4" fill="#000">Scenario</text>
<rect x="1656.9" y="189.7" width="64.8" height="64.6" fill="#4d4d4d" fill-opacity="0.5"/>
<text x="1739.5" y="230.3" font-size="20.1" fill="#000">BASE</text>
<rect x="1656.9" y="261" width="64.8" height="64.6" fill="#fa7f52" fill-opacity="0.5"/>
<text x="1739.5" y="301.6" font-size="20.1" fill="#000">SS</text>
<rect x="1656.9" y="332.3" width="64.8" height="64.6" fill="#93b4ec" fill-opacity="0.5"/>
<text x="1739.5" y="372.9" font-size="20.1" fill="#000">DS</text>
<rect x="1656.9" y="403.6" width="64.8" height="64.6" fill="#66ad66" fill-opacity="0.5"/>
<text x="1739.5" y="444.2" font-size="20.1" fill="#000">C</text>
<rect x="1656.9" y="474.9" width="64.8" height="64.6" fill="#ba6bd6" fill-opacity="0.5"/>
<text x="1739.5" y="515.5" font-size="20.1" fill="#000">C+SS</text>
<rect x="1656.9" y="546.2" width="64.8" height="64.6" fill="#60c6be" fill-opacity="0.5"/>
<text x="1739.5" y="586.8" font-size="20.1" fill="#000">C+DS</text>
<rect x="1656.9" y="617.5" width="64.8" height="64.6" fill="#fcd468" fill-opacity="0.5"/>
<text x="1739.5" y="658.1" font-size="20.1" fill="#000">IAP</text>
<text x="1653.6" y="801.2" font-size="28.4" fill="#000">Model</text>
<g fill="#000">
<circle cx="1689.3" cy="853.3" r="8.05"/>
<text x="1739.5" y="862" font-size="20.1">AIM</text>
<path d="M1689.3 912.93L1699.41 930.43L1679.19 930.43Z"/>
<text x="1739.5" y="933.3" font-size="20.1">GLOBIOM</text>
<rect x="1681.05" y="987.65" width="16.5" height="16.5"/>
<text x="1739.5" y="1004.6" font-size="20.1">IMAGE</text>
<path d="M1677.5 1067.2H1701.1M1689.3 1055.4V1079" fill="none" stroke="#000" stroke-width="2.25"/>
<text x="1739.5" y="1075.9" font-size="20.1">MAgPIE</text>
</g>
<text x="1654.2" y="1451.4" font-size="28.4" fill="#000">Scenario</text>
<rect x="1656.9" y="1471.3" width="64.8" height="64.6" fill="#4d4d4d" fill-opacity="0.5"/>
<text x="1739.5" y="1511.9" font-size="20.1" fill="#000">BASE</text>
<rect x="1656.9" y="1542.6" width="64.8" height="64.6" fill="#fa7f52" fill-opacity="0.5"/>
<text x="1739.5" y="1583.2" font-size="20.1" fill="#000">SS</text>
<rect x="1656.9" y="1613.9" width="64.8" height="64.6" fill="#93b4ec" fill-opacity="0.5"/>
<text x="1739.5" y="1654.5" font-size="20.1" fill="#000">DS</text>
<rect x="1656.9" y="1685.2" width="64.8" height="64.6" fill="#66ad66" fill-opacity="0.5"/>
<text x="1739.5" y="1725.8" font-size="20.1" fill="#000">C</text>
<rect x="1656.9" y="1756.5" width="64.8" height="64.6" fill="#ba6bd6" fill-opacity="0.5"/>
<text x="1739.5" y="1797.1" font-size="20.1" fill="#000">C+SS</text>
<rect x="1656.9" y="1827.8" width="64.8" height="64.6" fill="#60c6be" fill-opacity="0.5"/>
<text x="1739.5" y="1868.4" font-size="20.1" fill="#000">C+DS</text>
<rect x="1656.9" y="1899.1" width="64.8" height="64.6" fill="#fcd468" fill-opacity="0.5"/>
<text x="1739.5" y="1939.7" font-size="20.1" fill="#000">IAP</text>
<text x="1653.6" y="2082.8" font-size="28.4" fill="#000">Model</text>
<g fill="#000">
<circle cx="1689.3" cy="2134.9" r="8.05"/>
<text x="1739.5" y="2143.6" font-size="20.1">AIM</text>
<path d="M1689.3 2194.53L1699.41 2212.03L1679.19 2212.03Z"/>
<text x="1739.5" y="2214.9" font-size="20.1">GLOBIOM</text>
<rect x="1681.05" y="2269.25" width="16.5" height="16.5"/>
<text x="1739.5" y="2286.2" font-size="20.1">IMAGE</text>
<path d="M1677.5 2348.8H1701.1M1689.3 2337V2360.6" fill="none" stroke="#000" stroke-width="2.25"/>
<text x="1739.5" y="2357.5" font-size="20.1">MAgPIE</text>
</g>
</svg>
</body></html>
